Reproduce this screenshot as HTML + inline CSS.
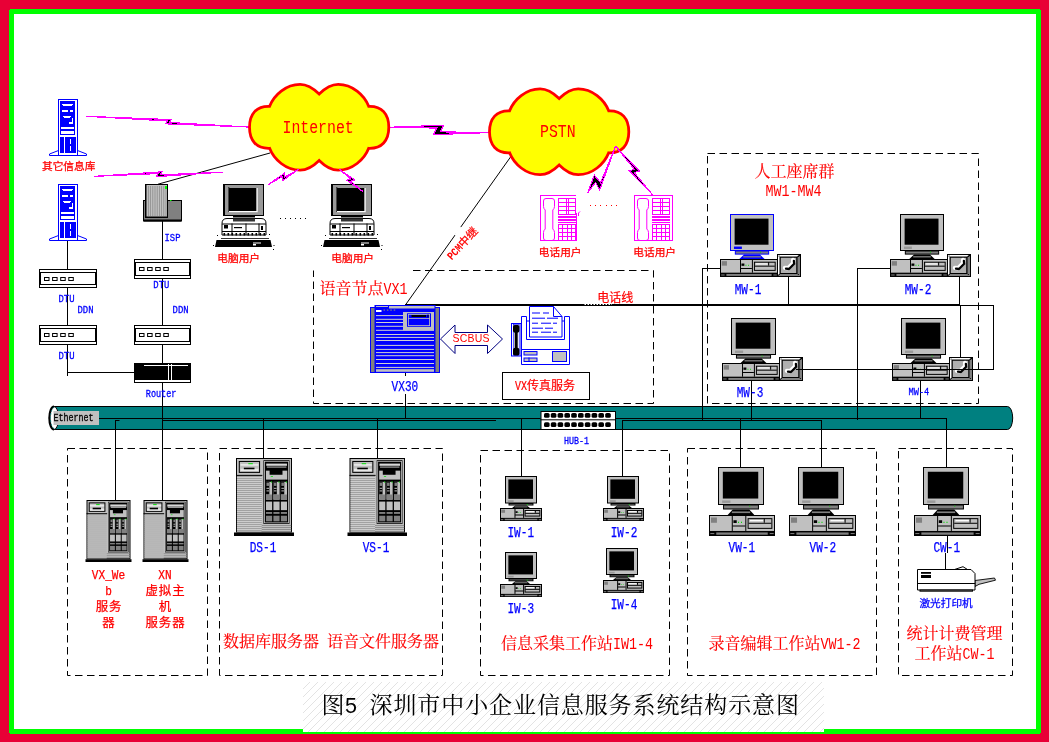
<!DOCTYPE html>
<html lang="zh-CN">
<head>
<meta charset="utf-8">
<title>图5 深圳市中小企业信息服务系统结构示意图</title>
<style>
html,body{margin:0;padding:0;background:#ffffff;}
body{width:1049px;height:742px;overflow:hidden;}
svg{display:block;will-change:transform;}
text{white-space:pre;}
</style>
</head>
<body>
<svg width="1049" height="742" viewBox="0 0 1049 742">
<rect x="0" y="0" width="1049" height="742" fill="#e80036"/>
<rect x="9" y="9" width="1032" height="725" fill="#00ff00"/>
<rect x="14" y="14" width="1022" height="715" fill="#ffffff"/>
<rect x="9" y="9" width="1" height="1" fill="#e80036"/>
<rect x="1040" y="9" width="1" height="1" fill="#e80036"/>
<rect x="9" y="733" width="1" height="1" fill="#e80036"/>
<rect x="1040" y="733" width="1" height="1" fill="#e80036"/>
<rect x="303" y="682" width="521" height="50" fill="#fff"/>
<path d="M303.0 689.0L310.0 682.0M303.0 697.0L318.0 682.0M303.0 705.0L326.0 682.0M303.0 713.0L334.0 682.0M303.0 721.0L342.0 682.0M303.0 729.0L350.0 682.0M308.0 732.0L358.0 682.0M316.0 732.0L366.0 682.0M324.0 732.0L374.0 682.0M332.0 732.0L382.0 682.0M340.0 732.0L390.0 682.0M348.0 732.0L398.0 682.0M356.0 732.0L406.0 682.0M364.0 732.0L414.0 682.0M372.0 732.0L422.0 682.0M380.0 732.0L430.0 682.0M388.0 732.0L438.0 682.0M396.0 732.0L446.0 682.0M404.0 732.0L454.0 682.0M412.0 732.0L462.0 682.0M420.0 732.0L470.0 682.0M428.0 732.0L478.0 682.0M436.0 732.0L486.0 682.0M444.0 732.0L494.0 682.0M452.0 732.0L502.0 682.0M460.0 732.0L510.0 682.0M468.0 732.0L518.0 682.0M476.0 732.0L526.0 682.0M484.0 732.0L534.0 682.0M492.0 732.0L542.0 682.0M500.0 732.0L550.0 682.0M508.0 732.0L558.0 682.0M516.0 732.0L566.0 682.0M524.0 732.0L574.0 682.0M532.0 732.0L582.0 682.0M540.0 732.0L590.0 682.0M548.0 732.0L598.0 682.0M556.0 732.0L606.0 682.0M564.0 732.0L614.0 682.0M572.0 732.0L622.0 682.0M580.0 732.0L630.0 682.0M588.0 732.0L638.0 682.0M596.0 732.0L646.0 682.0M604.0 732.0L654.0 682.0M612.0 732.0L662.0 682.0M620.0 732.0L670.0 682.0M628.0 732.0L678.0 682.0M636.0 732.0L686.0 682.0M644.0 732.0L694.0 682.0M652.0 732.0L702.0 682.0M660.0 732.0L710.0 682.0M668.0 732.0L718.0 682.0M676.0 732.0L726.0 682.0M684.0 732.0L734.0 682.0M692.0 732.0L742.0 682.0M700.0 732.0L750.0 682.0M708.0 732.0L758.0 682.0M716.0 732.0L766.0 682.0M724.0 732.0L774.0 682.0M732.0 732.0L782.0 682.0M740.0 732.0L790.0 682.0M748.0 732.0L798.0 682.0M756.0 732.0L806.0 682.0M764.0 732.0L814.0 682.0M772.0 732.0L822.0 682.0M780.0 732.0L824.0 688.0M788.0 732.0L824.0 696.0M796.0 732.0L824.0 704.0M804.0 732.0L824.0 712.0M812.0 732.0L824.0 720.0M820.0 732.0L824.0 728.0" stroke="#dcdcdc" stroke-width="0.8" fill="none"/>
<rect x="67.5" y="448.5" width="140.0" height="227.0" fill="none" stroke="#000" stroke-width="1" stroke-dasharray="7.5 4.5"/>
<rect x="219.5" y="448.5" width="223.0" height="227.0" fill="none" stroke="#000" stroke-width="1" stroke-dasharray="7.5 4.5"/>
<rect x="480.5" y="450.5" width="189.0" height="225.0" fill="none" stroke="#000" stroke-width="1" stroke-dasharray="7.5 4.5"/>
<rect x="687.5" y="448.5" width="189.0" height="227.0" fill="none" stroke="#000" stroke-width="1" stroke-dasharray="7.5 4.5"/>
<rect x="898.5" y="448.5" width="114.0" height="227.0" fill="none" stroke="#000" stroke-width="1" stroke-dasharray="7.5 4.5"/>
<rect x="707.5" y="153.5" width="271.0" height="250.0" fill="none" stroke="#000" stroke-width="1" stroke-dasharray="7.5 4.5"/>
<path d="M413.0 270.5 H653.5 V403.5 H313.5 V270.5" fill="none" stroke="#000" stroke-width="1" stroke-dasharray="7.5 4.5"/>
<path d="M54 406.5 H1007.5 A5.2 11.5 0 0 1 1007.5 429.5 H54 Z" fill="#008080" stroke="#000" stroke-width="1"/>
<ellipse cx="54" cy="418" rx="4.6" ry="11.5" fill="#fff" stroke="#000" stroke-width="1"/>
<path d="M54 406.5 A4.6 11.5 0 0 0 54 429.5" fill="none" stroke="#000" stroke-width="2.2"/>
<path d="M54.3 407.5 A3.8 10.5 0 0 0 54.3 428.5" fill="none" stroke="#008080" stroke-width="0.8" stroke-dasharray="2 1.5"/>
<rect x="53.50" y="411.00" width="45.50" height="14.00" fill="#c0c0c0" />
<text y="421.00" fill="#000" font-weight="normal" stroke="#000" stroke-width="0.3"><tspan x="53.50" font-family='"Liberation Mono",monospace' font-size="10.00" textLength="40.00" lengthAdjust="spacingAndGlyphs">Ethernet</tspan></text>
<rect x="99.00" y="418.00" width="441.50" height="1.00" fill="#000"/>
<rect x="162.00" y="420.00" width="334.00" height="1.00" fill="#000"/>
<rect x="115.00" y="420.00" width="4.50" height="1.00" fill="#000"/>
<rect x="615.50" y="418.00" width="331.00" height="1.00" fill="#000"/>
<rect x="622.00" y="420.00" width="200.00" height="1.00" fill="#000"/>
<rect x="67.00" y="240.00" width="1.00" height="136.00" fill="#000"/>
<rect x="67.00" y="372.00" width="67.50" height="1.00" fill="#000"/>
<rect x="162.00" y="221.00" width="1.00" height="279.00" fill="#000"/>
<rect x="115.00" y="420.00" width="1.00" height="80.00" fill="#000"/>
<rect x="263.00" y="418.00" width="1.00" height="40.00" fill="#000"/>
<rect x="377.00" y="418.00" width="1.00" height="40.00" fill="#000"/>
<rect x="405.00" y="373.00" width="1.00" height="45.00" fill="#000"/>
<rect x="521.00" y="418.00" width="1.00" height="58.50" fill="#000"/>
<rect x="622.00" y="420.00" width="1.00" height="56.50" fill="#000"/>
<rect x="740.00" y="418.00" width="1.00" height="49.50" fill="#000"/>
<rect x="821.00" y="420.00" width="1.00" height="47.50" fill="#000"/>
<rect x="946.00" y="418.00" width="1.00" height="49.50" fill="#000"/>
<rect x="920.00" y="381.00" width="1.00" height="37.50" fill="#000"/>
<rect x="751.00" y="380.00" width="1.00" height="40.00" fill="#000"/>
<rect x="702.00" y="268.00" width="1.00" height="152.00" fill="#000"/>
<rect x="702.00" y="268.00" width="19.00" height="1.00" fill="#000"/>
<rect x="857.00" y="268.00" width="1.00" height="152.00" fill="#000"/>
<rect x="857.00" y="268.00" width="34.00" height="1.00" fill="#000"/>
<rect x="788.00" y="276.00" width="1.00" height="29.00" fill="#000"/>
<rect x="959.00" y="276.00" width="1.00" height="29.00" fill="#000"/>
<rect x="405.00" y="304.00" width="555.00" height="2.00" fill="#000"/>
<rect x="960.00" y="305.00" width="34.00" height="1.00" fill="#000"/>
<rect x="993.00" y="305.00" width="1.00" height="65.00" fill="#000"/>
<rect x="960.00" y="305.00" width="1.00" height="52.00" fill="#000"/>
<line x1="513.80" y1="152.40" x2="405.40" y2="305.00" stroke="#000" stroke-width="1" />
<line x1="460.60" y1="227.00" x2="455.40" y2="235.30" stroke="#fff" stroke-width="2.5" />
<line x1="158.00" y1="184.20" x2="270.00" y2="153.00" stroke="#000" stroke-width="1" />
<rect x="947.00" y="535.00" width="1.00" height="18.00" fill="#000"/>
<rect x="945.00" y="553.00" width="1.00" height="16.50" fill="#000"/>
<polygon points="86.00,116.30 171.37,119.62 169.28,122.49 250.00,127.10 165.28,123.83 167.38,120.96" fill="#000" stroke="#ff00ff" stroke-width="1.15" stroke-linejoin="miter" shape-rendering="crispEdges"/>
<polygon points="93.70,176.40 161.97,171.83 160.17,174.89 223.30,172.10 156.33,176.62 158.13,173.56" fill="#000" stroke="#ff00ff" stroke-width="1.15" stroke-linejoin="miter" shape-rendering="crispEdges"/>
<polygon points="388.00,127.30 443.76,125.22 440.20,131.84 489.00,132.60 433.24,134.68 436.80,128.06" fill="#000" stroke="#ff00ff" stroke-width="1.15" stroke-linejoin="miter" shape-rendering="crispEdges"/>
<path transform="translate(0.00 0.00)" d="M249.50 127.30 C249.50 114.00 256.50 105.80 269.60 106.30 C274.00 95.00 286.00 84.40 300.10 84.40 C308.00 84.40 314.50 89.50 319.15 94.10 C323.80 89.50 330.30 84.40 338.20 84.40 C352.30 84.40 364.30 95.00 368.70 106.30 C381.80 105.80 388.80 114.00 388.80 127.30 C388.80 140.60 381.80 148.80 368.70 148.30 C364.30 159.60 352.30 170.20 338.20 170.20 C330.30 170.20 323.80 165.10 319.15 160.50 C314.50 165.10 308.00 170.20 300.10 170.20 C286.00 170.20 274.00 159.60 269.60 148.30 C256.50 148.80 249.50 140.60 249.50 127.30 Z" fill="#ffff00" stroke="#ff0000" stroke-width="2.8" stroke-linejoin="miter"/>
<path transform="translate(240.00 4.50)" d="M249.50 127.30 C249.50 114.00 256.50 105.80 269.60 106.30 C274.00 95.00 286.00 84.40 300.10 84.40 C308.00 84.40 314.50 89.50 319.15 94.10 C323.80 89.50 330.30 84.40 338.20 84.40 C352.30 84.40 364.30 95.00 368.70 106.30 C381.80 105.80 388.80 114.00 388.80 127.30 C388.80 140.60 381.80 148.80 368.70 148.30 C364.30 159.60 352.30 170.20 338.20 170.20 C330.30 170.20 323.80 165.10 319.15 160.50 C314.50 165.10 308.00 170.20 300.10 170.20 C286.00 170.20 274.00 159.60 269.60 148.30 C256.50 148.80 249.50 140.60 249.50 127.30 Z" fill="#ffff00" stroke="#ff0000" stroke-width="2.8" stroke-linejoin="miter"/>
<polygon points="615.60,146.30 599.70,189.90 595.60,182.40 587.70,192.70 594.30,175.10 600.50,182.80" fill="#000" stroke="#ff00ff" stroke-width="1.15" stroke-linejoin="miter" shape-rendering="crispEdges"/>
<polygon points="615.60,146.30 639.59,171.10 634.30,172.49 652.40,194.60 629.15,170.76 634.44,169.37" fill="#000" stroke="#ff00ff" stroke-width="1.15" stroke-linejoin="miter" shape-rendering="crispEdges"/>
<polygon points="58.50,150.50 49.50,154.00 49.50,155.50 58.50,155.50" fill="#fff" stroke="#0000ff" stroke-width="1" />
<polygon points="77.50,150.50 86.50,154.00 86.50,155.50 77.50,155.50" fill="#fff" stroke="#0000ff" stroke-width="1" />
<rect x="58.50" y="99.50" width="19.00" height="56.00" fill="#fff" stroke="#0000ff" stroke-width="1" />
<rect x="60.00" y="101.00" width="15.00" height="34.00" fill="#0000ff" />
<rect x="62.00" y="104.00" width="11.00" height="1.00" fill="#fff"/>
<rect x="63.00" y="105.00" width="9.00" height="1.00" fill="#fff"/>
<rect x="62.00" y="110.00" width="6.00" height="2.00" fill="#fff"/>
<rect x="70.00" y="110.00" width="3.00" height="2.00" fill="#fff"/>
<rect x="63.00" y="116.00" width="8.00" height="1.00" fill="#fff"/>
<rect x="64.00" y="117.00" width="6.00" height="1.00" fill="#fff"/>
<rect x="69.00" y="122.00" width="4.00" height="2.00" fill="#fff"/>
<rect x="72.00" y="118.00" width="1.00" height="5.00" fill="#fff"/>
<rect x="61.00" y="127.00" width="13.00" height="2.00" fill="#fff"/>
<rect x="61.00" y="131.00" width="13.00" height="3.00" fill="#fff"/>
<rect x="60.00" y="137.00" width="16.00" height="16.00" fill="#0000ff" />
<rect x="64.00" y="137.00" width="1.00" height="16.00" fill="#fff"/>
<rect x="70.00" y="139.00" width="1.00" height="5.00" fill="#fff"/>
<rect x="70.00" y="146.00" width="1.00" height="5.00" fill="#fff"/>
<polygon points="58.50,235.50 49.50,239.00 49.50,240.50 58.50,240.50" fill="#fff" stroke="#0000ff" stroke-width="1" />
<polygon points="77.50,235.50 86.50,239.00 86.50,240.50 77.50,240.50" fill="#fff" stroke="#0000ff" stroke-width="1" />
<rect x="58.50" y="184.50" width="19.00" height="56.00" fill="#fff" stroke="#0000ff" stroke-width="1" />
<rect x="60.00" y="186.00" width="15.00" height="34.00" fill="#0000ff" />
<rect x="62.00" y="189.00" width="11.00" height="1.00" fill="#fff"/>
<rect x="63.00" y="190.00" width="9.00" height="1.00" fill="#fff"/>
<rect x="62.00" y="195.00" width="6.00" height="2.00" fill="#fff"/>
<rect x="70.00" y="195.00" width="3.00" height="2.00" fill="#fff"/>
<rect x="63.00" y="201.00" width="8.00" height="1.00" fill="#fff"/>
<rect x="64.00" y="202.00" width="6.00" height="1.00" fill="#fff"/>
<rect x="69.00" y="207.00" width="4.00" height="2.00" fill="#fff"/>
<rect x="72.00" y="203.00" width="1.00" height="5.00" fill="#fff"/>
<rect x="61.00" y="212.00" width="13.00" height="2.00" fill="#fff"/>
<rect x="61.00" y="216.00" width="13.00" height="3.00" fill="#fff"/>
<rect x="60.00" y="222.00" width="16.00" height="16.00" fill="#0000ff" />
<rect x="64.00" y="222.00" width="1.00" height="16.00" fill="#fff"/>
<rect x="70.00" y="224.00" width="1.00" height="5.00" fill="#fff"/>
<rect x="70.00" y="231.00" width="1.00" height="5.00" fill="#fff"/>
<rect x="143.50" y="200.50" width="38.00" height="20.50" fill="#808080" stroke="#000" stroke-width="1" />
<rect x="144.00" y="219.50" width="37.00" height="2.00" fill="#000"/>
<rect x="145.50" y="184.50" width="22.00" height="33.00" fill="#c0c0c0" stroke="#000" stroke-width="1" />
<rect x="145.00" y="184.00" width="1.50" height="34.00" fill="#000"/>
<rect x="145.00" y="216.50" width="23.00" height="1.50" fill="#000"/>
<rect x="148.00" y="186.00" width="0.80" height="30.00" fill="#8c8c8c"/>
<rect x="150.20" y="186.00" width="0.80" height="30.00" fill="#8c8c8c"/>
<rect x="152.40" y="186.00" width="0.80" height="30.00" fill="#8c8c8c"/>
<rect x="154.60" y="186.00" width="0.80" height="30.00" fill="#8c8c8c"/>
<rect x="156.80" y="186.00" width="0.80" height="30.00" fill="#8c8c8c"/>
<rect x="159.00" y="186.00" width="0.80" height="30.00" fill="#8c8c8c"/>
<rect x="161.20" y="186.00" width="0.80" height="30.00" fill="#8c8c8c"/>
<rect x="163.40" y="186.00" width="0.80" height="30.00" fill="#8c8c8c"/>
<rect x="165.60" y="186.00" width="0.80" height="30.00" fill="#8c8c8c"/>
<rect x="165.00" y="186.00" width="2.00" height="3.00" fill="#00ff00" />
<rect x="170.00" y="200.00" width="1.50" height="1.00" fill="#00ff00" />
<rect x="39.50" y="269.50" width="57.00" height="18.00" fill="#fff" stroke="#000" stroke-width="1" />
<rect x="39.00" y="272.00" width="58.00" height="1.00" fill="#000"/>
<rect x="39.00" y="284.00" width="58.00" height="1.00" fill="#000"/>
<rect x="40.00" y="272.00" width="1.00" height="13.00" fill="#000"/>
<rect x="95.00" y="272.00" width="1.00" height="13.00" fill="#000"/>
<rect x="44.50" y="277.50" width="4.50" height="3.00" fill="#fff" stroke="#000" stroke-width="1" />
<rect x="52.60" y="277.50" width="4.50" height="3.00" fill="#fff" stroke="#000" stroke-width="1" />
<rect x="60.70" y="277.50" width="4.50" height="3.00" fill="#fff" stroke="#000" stroke-width="1" />
<rect x="68.80" y="277.50" width="4.50" height="3.00" fill="#fff" stroke="#000" stroke-width="1" />
<rect x="134.50" y="259.50" width="56.00" height="19.00" fill="#fff" stroke="#000" stroke-width="1" />
<rect x="134.00" y="262.00" width="57.00" height="1.00" fill="#000"/>
<rect x="134.00" y="275.00" width="57.00" height="1.00" fill="#000"/>
<rect x="135.00" y="262.00" width="1.00" height="14.00" fill="#000"/>
<rect x="189.00" y="262.00" width="1.00" height="14.00" fill="#000"/>
<rect x="139.50" y="267.50" width="4.50" height="3.00" fill="#fff" stroke="#000" stroke-width="1" />
<rect x="147.60" y="267.50" width="4.50" height="3.00" fill="#fff" stroke="#000" stroke-width="1" />
<rect x="155.70" y="267.50" width="4.50" height="3.00" fill="#fff" stroke="#000" stroke-width="1" />
<rect x="163.80" y="267.50" width="4.50" height="3.00" fill="#fff" stroke="#000" stroke-width="1" />
<rect x="39.50" y="325.50" width="57.00" height="19.00" fill="#fff" stroke="#000" stroke-width="1" />
<rect x="39.00" y="328.00" width="58.00" height="1.00" fill="#000"/>
<rect x="39.00" y="341.00" width="58.00" height="1.00" fill="#000"/>
<rect x="40.00" y="328.00" width="1.00" height="14.00" fill="#000"/>
<rect x="95.00" y="328.00" width="1.00" height="14.00" fill="#000"/>
<rect x="44.50" y="333.50" width="4.50" height="3.00" fill="#fff" stroke="#000" stroke-width="1" />
<rect x="52.60" y="333.50" width="4.50" height="3.00" fill="#fff" stroke="#000" stroke-width="1" />
<rect x="60.70" y="333.50" width="4.50" height="3.00" fill="#fff" stroke="#000" stroke-width="1" />
<rect x="68.80" y="333.50" width="4.50" height="3.00" fill="#fff" stroke="#000" stroke-width="1" />
<rect x="134.50" y="325.50" width="56.00" height="19.00" fill="#fff" stroke="#000" stroke-width="1" />
<rect x="134.00" y="328.00" width="57.00" height="1.00" fill="#000"/>
<rect x="134.00" y="341.00" width="57.00" height="1.00" fill="#000"/>
<rect x="135.00" y="328.00" width="1.00" height="14.00" fill="#000"/>
<rect x="189.00" y="328.00" width="1.00" height="14.00" fill="#000"/>
<rect x="139.50" y="333.50" width="4.50" height="3.00" fill="#fff" stroke="#000" stroke-width="1" />
<rect x="147.60" y="333.50" width="4.50" height="3.00" fill="#fff" stroke="#000" stroke-width="1" />
<rect x="155.70" y="333.50" width="4.50" height="3.00" fill="#fff" stroke="#000" stroke-width="1" />
<rect x="163.80" y="333.50" width="4.50" height="3.00" fill="#fff" stroke="#000" stroke-width="1" />
<rect x="134.00" y="363.00" width="57.00" height="20.00" fill="#000" />
<rect x="144.00" y="365.00" width="44.00" height="1.00" fill="#fff"/>
<rect x="168.00" y="364.00" width="1.00" height="18.00" fill="#fff"/>
<rect x="171.00" y="364.00" width="1.00" height="18.00" fill="#fff"/>
<rect x="135.00" y="380.00" width="55.00" height="2.00" fill="#fff"/>
<rect x="87.00" y="500.50" width="43.00" height="58.21" fill="#c0c0c0" stroke="#000" stroke-width="1" />
<rect x="85.50" y="559.21" width="46.00" height="2.79" fill="#000" />
<rect x="86.50" y="513.21" width="20.68" height="1.00" fill="#000"/>
<rect x="87.16" y="514.71" width="19.58" height="0.80" fill="#909090"/>
<rect x="87.16" y="515.71" width="19.58" height="0.60" fill="#dcdcdc"/>
<rect x="87.16" y="516.71" width="19.58" height="0.80" fill="#909090"/>
<rect x="87.16" y="517.71" width="19.58" height="0.60" fill="#dcdcdc"/>
<rect x="87.16" y="518.71" width="19.58" height="0.80" fill="#909090"/>
<rect x="87.16" y="519.71" width="19.58" height="0.60" fill="#dcdcdc"/>
<rect x="87.16" y="520.71" width="19.58" height="0.80" fill="#909090"/>
<rect x="87.16" y="521.71" width="19.58" height="0.60" fill="#dcdcdc"/>
<rect x="87.16" y="522.71" width="19.58" height="0.80" fill="#909090"/>
<rect x="87.16" y="523.71" width="19.58" height="0.60" fill="#dcdcdc"/>
<rect x="87.16" y="524.71" width="19.58" height="0.80" fill="#909090"/>
<rect x="87.16" y="525.71" width="19.58" height="0.60" fill="#dcdcdc"/>
<rect x="87.16" y="526.71" width="19.58" height="0.80" fill="#909090"/>
<rect x="87.16" y="527.71" width="19.58" height="0.60" fill="#dcdcdc"/>
<rect x="87.16" y="528.71" width="19.58" height="0.80" fill="#909090"/>
<rect x="87.16" y="529.71" width="19.58" height="0.60" fill="#dcdcdc"/>
<rect x="87.16" y="530.71" width="19.58" height="0.80" fill="#909090"/>
<rect x="87.16" y="531.71" width="19.58" height="0.60" fill="#dcdcdc"/>
<rect x="87.16" y="532.71" width="19.58" height="0.80" fill="#909090"/>
<rect x="87.16" y="533.71" width="19.58" height="0.60" fill="#dcdcdc"/>
<rect x="87.16" y="534.71" width="19.58" height="0.80" fill="#909090"/>
<rect x="87.16" y="535.71" width="19.58" height="0.60" fill="#dcdcdc"/>
<rect x="87.16" y="536.71" width="19.58" height="0.80" fill="#909090"/>
<rect x="87.16" y="537.71" width="19.58" height="0.60" fill="#dcdcdc"/>
<rect x="87.16" y="538.71" width="19.58" height="0.80" fill="#909090"/>
<rect x="87.16" y="539.71" width="19.58" height="0.60" fill="#dcdcdc"/>
<rect x="87.16" y="540.71" width="19.58" height="0.80" fill="#909090"/>
<rect x="87.16" y="541.71" width="19.58" height="0.60" fill="#dcdcdc"/>
<rect x="87.16" y="542.71" width="19.58" height="0.80" fill="#909090"/>
<rect x="87.16" y="543.71" width="19.58" height="0.60" fill="#dcdcdc"/>
<rect x="87.16" y="544.71" width="19.58" height="0.80" fill="#909090"/>
<rect x="87.16" y="545.71" width="19.58" height="0.60" fill="#dcdcdc"/>
<rect x="87.16" y="546.71" width="19.58" height="0.80" fill="#909090"/>
<rect x="87.16" y="547.71" width="19.58" height="0.60" fill="#dcdcdc"/>
<rect x="87.16" y="548.71" width="19.58" height="0.80" fill="#909090"/>
<rect x="87.16" y="549.71" width="19.58" height="0.60" fill="#dcdcdc"/>
<rect x="87.16" y="550.71" width="19.58" height="0.80" fill="#909090"/>
<rect x="87.16" y="551.71" width="19.58" height="0.60" fill="#dcdcdc"/>
<rect x="87.16" y="552.71" width="19.58" height="0.80" fill="#909090"/>
<rect x="87.16" y="553.71" width="19.58" height="0.60" fill="#dcdcdc"/>
<rect x="87.16" y="554.71" width="19.58" height="0.80" fill="#909090"/>
<rect x="87.16" y="555.71" width="19.58" height="0.60" fill="#dcdcdc"/>
<rect x="87.16" y="556.71" width="19.58" height="0.80" fill="#909090"/>
<rect x="87.16" y="557.71" width="19.58" height="0.60" fill="#dcdcdc"/>
<rect x="106.74" y="553.29" width="23.10" height="0.90" fill="#8a8a8a"/>
<rect x="106.74" y="555.29" width="23.10" height="0.90" fill="#8a8a8a"/>
<rect x="106.74" y="557.29" width="23.10" height="0.90" fill="#8a8a8a"/>
<rect x="89.20" y="502.87" width="15.72" height="8.47" fill="#c0c0c0" stroke="#000" stroke-width="1" />
<rect x="90.02" y="504.74" width="14.08" height="1.80" fill="#e8e8e8"/>
<rect x="90.02" y="508.59" width="14.08" height="2.20" fill="#e8e8e8"/>
<rect x="92.66" y="507.70" width="8.36" height="1.60" fill="#000"/>
<rect x="96.18" y="504.14" width="3.52" height="1.00" fill="#00e000"/>
<rect x="108.06" y="501.78" width="20.46" height="50.62" fill="#000" />
<rect x="108.50" y="502.37" width="19.58" height="49.44" fill="#c0c0c0" />
<rect x="109.16" y="502.96" width="18.26" height="48.26" fill="#000" />
<rect x="110.26" y="504.44" width="16.28" height="2.20" fill="#d8d8d8"/>
<rect x="110.70" y="506.81" width="15.40" height="1.00" fill="#c0c0c0"/>
<rect x="110.04" y="510.07" width="16.72" height="7.11" fill="#c0c0c0" />
<rect x="112.90" y="507.99" width="10.12" height="5.33" fill="#000" />
<rect x="113.78" y="514.51" width="1.76" height="0.59" fill="#00e000" />
<rect x="110.04" y="518.95" width="4.84" height="14.21" fill="#c0c0c0" />
<rect x="110.04" y="518.95" width="2.66" height="10.07" fill="#000" />
<rect x="110.54" y="519.54" width="1.92" height="2.66" fill="#808080" />
<rect x="110.54" y="523.68" width="1.92" height="1.00" fill="#c0c0c0"/>
<rect x="110.54" y="525.76" width="1.92" height="1.00" fill="#c0c0c0"/>
<rect x="110.04" y="529.01" width="4.84" height="4.14" fill="#808080" />
<rect x="110.04" y="534.64" width="4.84" height="6.81" fill="#c0c0c0" />
<rect x="110.04" y="542.93" width="4.84" height="1.48" fill="#808080" />
<rect x="110.04" y="545.89" width="4.84" height="4.44" fill="#808080" />
<rect x="113.68" y="518.65" width="1.20" height="0.89" fill="#00e000" />
<rect x="115.89" y="518.95" width="4.84" height="14.21" fill="#c0c0c0" />
<rect x="115.89" y="518.95" width="2.66" height="10.07" fill="#000" />
<rect x="116.39" y="519.54" width="1.92" height="2.66" fill="#808080" />
<rect x="116.39" y="523.68" width="1.92" height="1.00" fill="#c0c0c0"/>
<rect x="116.39" y="525.76" width="1.92" height="1.00" fill="#c0c0c0"/>
<rect x="115.89" y="529.01" width="4.84" height="4.14" fill="#808080" />
<rect x="115.89" y="534.64" width="4.84" height="6.81" fill="#c0c0c0" />
<rect x="115.89" y="542.93" width="4.84" height="1.48" fill="#808080" />
<rect x="115.89" y="545.89" width="4.84" height="4.44" fill="#808080" />
<rect x="119.53" y="518.65" width="1.20" height="0.89" fill="#00e000" />
<rect x="121.74" y="518.95" width="4.84" height="14.21" fill="#c0c0c0" />
<rect x="121.74" y="518.95" width="2.66" height="10.07" fill="#000" />
<rect x="122.24" y="519.54" width="1.92" height="2.66" fill="#808080" />
<rect x="122.24" y="523.68" width="1.92" height="1.00" fill="#c0c0c0"/>
<rect x="122.24" y="525.76" width="1.92" height="1.00" fill="#c0c0c0"/>
<rect x="121.74" y="529.01" width="4.84" height="4.14" fill="#808080" />
<rect x="121.74" y="534.64" width="4.84" height="6.81" fill="#c0c0c0" />
<rect x="121.74" y="542.93" width="4.84" height="1.48" fill="#808080" />
<rect x="121.74" y="545.89" width="4.84" height="4.44" fill="#808080" />
<rect x="125.38" y="518.65" width="1.20" height="0.89" fill="#00e000" />
<rect x="144.00" y="500.50" width="43.00" height="58.21" fill="#c0c0c0" stroke="#000" stroke-width="1" />
<rect x="142.50" y="559.21" width="46.00" height="2.79" fill="#000" />
<rect x="143.50" y="513.21" width="20.68" height="1.00" fill="#000"/>
<rect x="144.16" y="514.71" width="19.58" height="0.80" fill="#909090"/>
<rect x="144.16" y="515.71" width="19.58" height="0.60" fill="#dcdcdc"/>
<rect x="144.16" y="516.71" width="19.58" height="0.80" fill="#909090"/>
<rect x="144.16" y="517.71" width="19.58" height="0.60" fill="#dcdcdc"/>
<rect x="144.16" y="518.71" width="19.58" height="0.80" fill="#909090"/>
<rect x="144.16" y="519.71" width="19.58" height="0.60" fill="#dcdcdc"/>
<rect x="144.16" y="520.71" width="19.58" height="0.80" fill="#909090"/>
<rect x="144.16" y="521.71" width="19.58" height="0.60" fill="#dcdcdc"/>
<rect x="144.16" y="522.71" width="19.58" height="0.80" fill="#909090"/>
<rect x="144.16" y="523.71" width="19.58" height="0.60" fill="#dcdcdc"/>
<rect x="144.16" y="524.71" width="19.58" height="0.80" fill="#909090"/>
<rect x="144.16" y="525.71" width="19.58" height="0.60" fill="#dcdcdc"/>
<rect x="144.16" y="526.71" width="19.58" height="0.80" fill="#909090"/>
<rect x="144.16" y="527.71" width="19.58" height="0.60" fill="#dcdcdc"/>
<rect x="144.16" y="528.71" width="19.58" height="0.80" fill="#909090"/>
<rect x="144.16" y="529.71" width="19.58" height="0.60" fill="#dcdcdc"/>
<rect x="144.16" y="530.71" width="19.58" height="0.80" fill="#909090"/>
<rect x="144.16" y="531.71" width="19.58" height="0.60" fill="#dcdcdc"/>
<rect x="144.16" y="532.71" width="19.58" height="0.80" fill="#909090"/>
<rect x="144.16" y="533.71" width="19.58" height="0.60" fill="#dcdcdc"/>
<rect x="144.16" y="534.71" width="19.58" height="0.80" fill="#909090"/>
<rect x="144.16" y="535.71" width="19.58" height="0.60" fill="#dcdcdc"/>
<rect x="144.16" y="536.71" width="19.58" height="0.80" fill="#909090"/>
<rect x="144.16" y="537.71" width="19.58" height="0.60" fill="#dcdcdc"/>
<rect x="144.16" y="538.71" width="19.58" height="0.80" fill="#909090"/>
<rect x="144.16" y="539.71" width="19.58" height="0.60" fill="#dcdcdc"/>
<rect x="144.16" y="540.71" width="19.58" height="0.80" fill="#909090"/>
<rect x="144.16" y="541.71" width="19.58" height="0.60" fill="#dcdcdc"/>
<rect x="144.16" y="542.71" width="19.58" height="0.80" fill="#909090"/>
<rect x="144.16" y="543.71" width="19.58" height="0.60" fill="#dcdcdc"/>
<rect x="144.16" y="544.71" width="19.58" height="0.80" fill="#909090"/>
<rect x="144.16" y="545.71" width="19.58" height="0.60" fill="#dcdcdc"/>
<rect x="144.16" y="546.71" width="19.58" height="0.80" fill="#909090"/>
<rect x="144.16" y="547.71" width="19.58" height="0.60" fill="#dcdcdc"/>
<rect x="144.16" y="548.71" width="19.58" height="0.80" fill="#909090"/>
<rect x="144.16" y="549.71" width="19.58" height="0.60" fill="#dcdcdc"/>
<rect x="144.16" y="550.71" width="19.58" height="0.80" fill="#909090"/>
<rect x="144.16" y="551.71" width="19.58" height="0.60" fill="#dcdcdc"/>
<rect x="144.16" y="552.71" width="19.58" height="0.80" fill="#909090"/>
<rect x="144.16" y="553.71" width="19.58" height="0.60" fill="#dcdcdc"/>
<rect x="144.16" y="554.71" width="19.58" height="0.80" fill="#909090"/>
<rect x="144.16" y="555.71" width="19.58" height="0.60" fill="#dcdcdc"/>
<rect x="144.16" y="556.71" width="19.58" height="0.80" fill="#909090"/>
<rect x="144.16" y="557.71" width="19.58" height="0.60" fill="#dcdcdc"/>
<rect x="163.74" y="553.29" width="23.10" height="0.90" fill="#8a8a8a"/>
<rect x="163.74" y="555.29" width="23.10" height="0.90" fill="#8a8a8a"/>
<rect x="163.74" y="557.29" width="23.10" height="0.90" fill="#8a8a8a"/>
<rect x="146.20" y="502.87" width="15.72" height="8.47" fill="#c0c0c0" stroke="#000" stroke-width="1" />
<rect x="147.02" y="504.74" width="14.08" height="1.80" fill="#e8e8e8"/>
<rect x="147.02" y="508.59" width="14.08" height="2.20" fill="#e8e8e8"/>
<rect x="149.66" y="507.70" width="8.36" height="1.60" fill="#000"/>
<rect x="153.18" y="504.14" width="3.52" height="1.00" fill="#00e000"/>
<rect x="165.06" y="501.78" width="20.46" height="50.62" fill="#000" />
<rect x="165.50" y="502.37" width="19.58" height="49.44" fill="#c0c0c0" />
<rect x="166.16" y="502.96" width="18.26" height="48.26" fill="#000" />
<rect x="167.26" y="504.44" width="16.28" height="2.20" fill="#d8d8d8"/>
<rect x="167.70" y="506.81" width="15.40" height="1.00" fill="#c0c0c0"/>
<rect x="167.04" y="510.07" width="16.72" height="7.11" fill="#c0c0c0" />
<rect x="169.90" y="507.99" width="10.12" height="5.33" fill="#000" />
<rect x="170.78" y="514.51" width="1.76" height="0.59" fill="#00e000" />
<rect x="167.04" y="518.95" width="4.84" height="14.21" fill="#c0c0c0" />
<rect x="167.04" y="518.95" width="2.66" height="10.07" fill="#000" />
<rect x="167.54" y="519.54" width="1.92" height="2.66" fill="#808080" />
<rect x="167.54" y="523.68" width="1.92" height="1.00" fill="#c0c0c0"/>
<rect x="167.54" y="525.76" width="1.92" height="1.00" fill="#c0c0c0"/>
<rect x="167.04" y="529.01" width="4.84" height="4.14" fill="#808080" />
<rect x="167.04" y="534.64" width="4.84" height="6.81" fill="#c0c0c0" />
<rect x="167.04" y="542.93" width="4.84" height="1.48" fill="#808080" />
<rect x="167.04" y="545.89" width="4.84" height="4.44" fill="#808080" />
<rect x="170.68" y="518.65" width="1.20" height="0.89" fill="#00e000" />
<rect x="172.89" y="518.95" width="4.84" height="14.21" fill="#c0c0c0" />
<rect x="172.89" y="518.95" width="2.66" height="10.07" fill="#000" />
<rect x="173.39" y="519.54" width="1.92" height="2.66" fill="#808080" />
<rect x="173.39" y="523.68" width="1.92" height="1.00" fill="#c0c0c0"/>
<rect x="173.39" y="525.76" width="1.92" height="1.00" fill="#c0c0c0"/>
<rect x="172.89" y="529.01" width="4.84" height="4.14" fill="#808080" />
<rect x="172.89" y="534.64" width="4.84" height="6.81" fill="#c0c0c0" />
<rect x="172.89" y="542.93" width="4.84" height="1.48" fill="#808080" />
<rect x="172.89" y="545.89" width="4.84" height="4.44" fill="#808080" />
<rect x="176.53" y="518.65" width="1.20" height="0.89" fill="#00e000" />
<rect x="178.74" y="518.95" width="4.84" height="14.21" fill="#c0c0c0" />
<rect x="178.74" y="518.95" width="2.66" height="10.07" fill="#000" />
<rect x="179.24" y="519.54" width="1.92" height="2.66" fill="#808080" />
<rect x="179.24" y="523.68" width="1.92" height="1.00" fill="#c0c0c0"/>
<rect x="179.24" y="525.76" width="1.92" height="1.00" fill="#c0c0c0"/>
<rect x="178.74" y="529.01" width="4.84" height="4.14" fill="#808080" />
<rect x="178.74" y="534.64" width="4.84" height="6.81" fill="#c0c0c0" />
<rect x="178.74" y="542.93" width="4.84" height="1.48" fill="#808080" />
<rect x="178.74" y="545.89" width="4.84" height="4.44" fill="#808080" />
<rect x="182.38" y="518.65" width="1.20" height="0.89" fill="#00e000" />
<rect x="236.50" y="458.50" width="55.00" height="73.49" fill="#c0c0c0" stroke="#000" stroke-width="1" />
<rect x="234.00" y="532.49" width="60.00" height="3.51" fill="#000" />
<rect x="236.00" y="474.88" width="26.32" height="1.00" fill="#000"/>
<rect x="236.84" y="476.38" width="24.92" height="0.80" fill="#909090"/>
<rect x="236.84" y="477.38" width="24.92" height="0.60" fill="#dcdcdc"/>
<rect x="236.84" y="478.38" width="24.92" height="0.80" fill="#909090"/>
<rect x="236.84" y="479.38" width="24.92" height="0.60" fill="#dcdcdc"/>
<rect x="236.84" y="480.38" width="24.92" height="0.80" fill="#909090"/>
<rect x="236.84" y="481.38" width="24.92" height="0.60" fill="#dcdcdc"/>
<rect x="236.84" y="482.38" width="24.92" height="0.80" fill="#909090"/>
<rect x="236.84" y="483.38" width="24.92" height="0.60" fill="#dcdcdc"/>
<rect x="236.84" y="484.38" width="24.92" height="0.80" fill="#909090"/>
<rect x="236.84" y="485.38" width="24.92" height="0.60" fill="#dcdcdc"/>
<rect x="236.84" y="486.38" width="24.92" height="0.80" fill="#909090"/>
<rect x="236.84" y="487.38" width="24.92" height="0.60" fill="#dcdcdc"/>
<rect x="236.84" y="488.38" width="24.92" height="0.80" fill="#909090"/>
<rect x="236.84" y="489.38" width="24.92" height="0.60" fill="#dcdcdc"/>
<rect x="236.84" y="490.38" width="24.92" height="0.80" fill="#909090"/>
<rect x="236.84" y="491.38" width="24.92" height="0.60" fill="#dcdcdc"/>
<rect x="236.84" y="492.38" width="24.92" height="0.80" fill="#909090"/>
<rect x="236.84" y="493.38" width="24.92" height="0.60" fill="#dcdcdc"/>
<rect x="236.84" y="494.38" width="24.92" height="0.80" fill="#909090"/>
<rect x="236.84" y="495.38" width="24.92" height="0.60" fill="#dcdcdc"/>
<rect x="236.84" y="496.38" width="24.92" height="0.80" fill="#909090"/>
<rect x="236.84" y="497.38" width="24.92" height="0.60" fill="#dcdcdc"/>
<rect x="236.84" y="498.38" width="24.92" height="0.80" fill="#909090"/>
<rect x="236.84" y="499.38" width="24.92" height="0.60" fill="#dcdcdc"/>
<rect x="236.84" y="500.38" width="24.92" height="0.80" fill="#909090"/>
<rect x="236.84" y="501.38" width="24.92" height="0.60" fill="#dcdcdc"/>
<rect x="236.84" y="502.38" width="24.92" height="0.80" fill="#909090"/>
<rect x="236.84" y="503.38" width="24.92" height="0.60" fill="#dcdcdc"/>
<rect x="236.84" y="504.38" width="24.92" height="0.80" fill="#909090"/>
<rect x="236.84" y="505.38" width="24.92" height="0.60" fill="#dcdcdc"/>
<rect x="236.84" y="506.38" width="24.92" height="0.80" fill="#909090"/>
<rect x="236.84" y="507.38" width="24.92" height="0.60" fill="#dcdcdc"/>
<rect x="236.84" y="508.38" width="24.92" height="0.80" fill="#909090"/>
<rect x="236.84" y="509.38" width="24.92" height="0.60" fill="#dcdcdc"/>
<rect x="236.84" y="510.38" width="24.92" height="0.80" fill="#909090"/>
<rect x="236.84" y="511.38" width="24.92" height="0.60" fill="#dcdcdc"/>
<rect x="236.84" y="512.38" width="24.92" height="0.80" fill="#909090"/>
<rect x="236.84" y="513.38" width="24.92" height="0.60" fill="#dcdcdc"/>
<rect x="236.84" y="514.38" width="24.92" height="0.80" fill="#909090"/>
<rect x="236.84" y="515.38" width="24.92" height="0.60" fill="#dcdcdc"/>
<rect x="236.84" y="516.38" width="24.92" height="0.80" fill="#909090"/>
<rect x="236.84" y="517.38" width="24.92" height="0.60" fill="#dcdcdc"/>
<rect x="236.84" y="518.38" width="24.92" height="0.80" fill="#909090"/>
<rect x="236.84" y="519.38" width="24.92" height="0.60" fill="#dcdcdc"/>
<rect x="236.84" y="520.38" width="24.92" height="0.80" fill="#909090"/>
<rect x="236.84" y="521.38" width="24.92" height="0.60" fill="#dcdcdc"/>
<rect x="236.84" y="522.38" width="24.92" height="0.80" fill="#909090"/>
<rect x="236.84" y="523.38" width="24.92" height="0.60" fill="#dcdcdc"/>
<rect x="236.84" y="524.38" width="24.92" height="0.80" fill="#909090"/>
<rect x="236.84" y="525.38" width="24.92" height="0.60" fill="#dcdcdc"/>
<rect x="236.84" y="526.38" width="24.92" height="0.80" fill="#909090"/>
<rect x="236.84" y="527.38" width="24.92" height="0.60" fill="#dcdcdc"/>
<rect x="236.84" y="528.38" width="24.92" height="0.80" fill="#909090"/>
<rect x="236.84" y="529.38" width="24.92" height="0.60" fill="#dcdcdc"/>
<rect x="236.84" y="530.38" width="24.92" height="0.80" fill="#909090"/>
<rect x="236.84" y="531.38" width="24.92" height="0.60" fill="#dcdcdc"/>
<rect x="261.76" y="525.04" width="29.40" height="0.90" fill="#8a8a8a"/>
<rect x="261.76" y="527.04" width="29.40" height="0.90" fill="#8a8a8a"/>
<rect x="261.76" y="529.04" width="29.40" height="0.90" fill="#8a8a8a"/>
<rect x="261.76" y="531.04" width="29.40" height="0.90" fill="#8a8a8a"/>
<rect x="239.30" y="461.48" width="20.28" height="10.92" fill="#c0c0c0" stroke="#000" stroke-width="1" />
<rect x="240.48" y="463.96" width="17.92" height="1.80" fill="#e8e8e8"/>
<rect x="240.48" y="468.80" width="17.92" height="2.20" fill="#e8e8e8"/>
<rect x="243.84" y="467.68" width="10.64" height="1.60" fill="#000"/>
<rect x="248.32" y="463.21" width="4.48" height="1.00" fill="#00e000"/>
<rect x="263.44" y="460.23" width="26.04" height="63.69" fill="#000" />
<rect x="264.00" y="460.98" width="24.92" height="62.20" fill="#c0c0c0" />
<rect x="264.84" y="461.72" width="23.24" height="60.71" fill="#000" />
<rect x="266.24" y="463.59" width="20.72" height="2.20" fill="#d8d8d8"/>
<rect x="266.80" y="466.57" width="19.60" height="1.00" fill="#c0c0c0"/>
<rect x="265.96" y="470.66" width="21.28" height="8.94" fill="#c0c0c0" />
<rect x="269.60" y="468.06" width="12.88" height="6.70" fill="#000" />
<rect x="270.72" y="476.25" width="2.24" height="0.74" fill="#00e000" />
<rect x="265.96" y="481.84" width="6.16" height="17.88" fill="#c0c0c0" />
<rect x="265.96" y="481.84" width="3.39" height="12.66" fill="#000" />
<rect x="266.46" y="482.58" width="2.58" height="3.35" fill="#808080" />
<rect x="266.46" y="487.80" width="2.58" height="1.00" fill="#c0c0c0"/>
<rect x="266.46" y="490.40" width="2.58" height="1.00" fill="#c0c0c0"/>
<rect x="265.96" y="494.50" width="6.16" height="5.21" fill="#808080" />
<rect x="265.96" y="501.58" width="6.16" height="8.57" fill="#c0c0c0" />
<rect x="265.96" y="512.01" width="6.16" height="1.86" fill="#808080" />
<rect x="265.96" y="515.73" width="6.16" height="5.59" fill="#808080" />
<rect x="270.92" y="481.46" width="1.20" height="1.12" fill="#00e000" />
<rect x="273.41" y="481.84" width="6.16" height="17.88" fill="#c0c0c0" />
<rect x="273.41" y="481.84" width="3.39" height="12.66" fill="#000" />
<rect x="273.91" y="482.58" width="2.58" height="3.35" fill="#808080" />
<rect x="273.91" y="487.80" width="2.58" height="1.00" fill="#c0c0c0"/>
<rect x="273.91" y="490.40" width="2.58" height="1.00" fill="#c0c0c0"/>
<rect x="273.41" y="494.50" width="6.16" height="5.21" fill="#808080" />
<rect x="273.41" y="501.58" width="6.16" height="8.57" fill="#c0c0c0" />
<rect x="273.41" y="512.01" width="6.16" height="1.86" fill="#808080" />
<rect x="273.41" y="515.73" width="6.16" height="5.59" fill="#808080" />
<rect x="278.37" y="481.46" width="1.20" height="1.12" fill="#00e000" />
<rect x="280.86" y="481.84" width="6.16" height="17.88" fill="#c0c0c0" />
<rect x="280.86" y="481.84" width="3.39" height="12.66" fill="#000" />
<rect x="281.36" y="482.58" width="2.58" height="3.35" fill="#808080" />
<rect x="281.36" y="487.80" width="2.58" height="1.00" fill="#c0c0c0"/>
<rect x="281.36" y="490.40" width="2.58" height="1.00" fill="#c0c0c0"/>
<rect x="280.86" y="494.50" width="6.16" height="5.21" fill="#808080" />
<rect x="280.86" y="501.58" width="6.16" height="8.57" fill="#c0c0c0" />
<rect x="280.86" y="512.01" width="6.16" height="1.86" fill="#808080" />
<rect x="280.86" y="515.73" width="6.16" height="5.59" fill="#808080" />
<rect x="285.82" y="481.46" width="1.20" height="1.12" fill="#00e000" />
<rect x="350.00" y="458.50" width="54.50" height="73.49" fill="#c0c0c0" stroke="#000" stroke-width="1" />
<rect x="347.50" y="532.49" width="59.50" height="3.51" fill="#000" />
<rect x="349.50" y="474.88" width="26.08" height="1.00" fill="#000"/>
<rect x="350.33" y="476.38" width="24.70" height="0.80" fill="#909090"/>
<rect x="350.33" y="477.38" width="24.70" height="0.60" fill="#dcdcdc"/>
<rect x="350.33" y="478.38" width="24.70" height="0.80" fill="#909090"/>
<rect x="350.33" y="479.38" width="24.70" height="0.60" fill="#dcdcdc"/>
<rect x="350.33" y="480.38" width="24.70" height="0.80" fill="#909090"/>
<rect x="350.33" y="481.38" width="24.70" height="0.60" fill="#dcdcdc"/>
<rect x="350.33" y="482.38" width="24.70" height="0.80" fill="#909090"/>
<rect x="350.33" y="483.38" width="24.70" height="0.60" fill="#dcdcdc"/>
<rect x="350.33" y="484.38" width="24.70" height="0.80" fill="#909090"/>
<rect x="350.33" y="485.38" width="24.70" height="0.60" fill="#dcdcdc"/>
<rect x="350.33" y="486.38" width="24.70" height="0.80" fill="#909090"/>
<rect x="350.33" y="487.38" width="24.70" height="0.60" fill="#dcdcdc"/>
<rect x="350.33" y="488.38" width="24.70" height="0.80" fill="#909090"/>
<rect x="350.33" y="489.38" width="24.70" height="0.60" fill="#dcdcdc"/>
<rect x="350.33" y="490.38" width="24.70" height="0.80" fill="#909090"/>
<rect x="350.33" y="491.38" width="24.70" height="0.60" fill="#dcdcdc"/>
<rect x="350.33" y="492.38" width="24.70" height="0.80" fill="#909090"/>
<rect x="350.33" y="493.38" width="24.70" height="0.60" fill="#dcdcdc"/>
<rect x="350.33" y="494.38" width="24.70" height="0.80" fill="#909090"/>
<rect x="350.33" y="495.38" width="24.70" height="0.60" fill="#dcdcdc"/>
<rect x="350.33" y="496.38" width="24.70" height="0.80" fill="#909090"/>
<rect x="350.33" y="497.38" width="24.70" height="0.60" fill="#dcdcdc"/>
<rect x="350.33" y="498.38" width="24.70" height="0.80" fill="#909090"/>
<rect x="350.33" y="499.38" width="24.70" height="0.60" fill="#dcdcdc"/>
<rect x="350.33" y="500.38" width="24.70" height="0.80" fill="#909090"/>
<rect x="350.33" y="501.38" width="24.70" height="0.60" fill="#dcdcdc"/>
<rect x="350.33" y="502.38" width="24.70" height="0.80" fill="#909090"/>
<rect x="350.33" y="503.38" width="24.70" height="0.60" fill="#dcdcdc"/>
<rect x="350.33" y="504.38" width="24.70" height="0.80" fill="#909090"/>
<rect x="350.33" y="505.38" width="24.70" height="0.60" fill="#dcdcdc"/>
<rect x="350.33" y="506.38" width="24.70" height="0.80" fill="#909090"/>
<rect x="350.33" y="507.38" width="24.70" height="0.60" fill="#dcdcdc"/>
<rect x="350.33" y="508.38" width="24.70" height="0.80" fill="#909090"/>
<rect x="350.33" y="509.38" width="24.70" height="0.60" fill="#dcdcdc"/>
<rect x="350.33" y="510.38" width="24.70" height="0.80" fill="#909090"/>
<rect x="350.33" y="511.38" width="24.70" height="0.60" fill="#dcdcdc"/>
<rect x="350.33" y="512.38" width="24.70" height="0.80" fill="#909090"/>
<rect x="350.33" y="513.38" width="24.70" height="0.60" fill="#dcdcdc"/>
<rect x="350.33" y="514.38" width="24.70" height="0.80" fill="#909090"/>
<rect x="350.33" y="515.38" width="24.70" height="0.60" fill="#dcdcdc"/>
<rect x="350.33" y="516.38" width="24.70" height="0.80" fill="#909090"/>
<rect x="350.33" y="517.38" width="24.70" height="0.60" fill="#dcdcdc"/>
<rect x="350.33" y="518.38" width="24.70" height="0.80" fill="#909090"/>
<rect x="350.33" y="519.38" width="24.70" height="0.60" fill="#dcdcdc"/>
<rect x="350.33" y="520.38" width="24.70" height="0.80" fill="#909090"/>
<rect x="350.33" y="521.38" width="24.70" height="0.60" fill="#dcdcdc"/>
<rect x="350.33" y="522.38" width="24.70" height="0.80" fill="#909090"/>
<rect x="350.33" y="523.38" width="24.70" height="0.60" fill="#dcdcdc"/>
<rect x="350.33" y="524.38" width="24.70" height="0.80" fill="#909090"/>
<rect x="350.33" y="525.38" width="24.70" height="0.60" fill="#dcdcdc"/>
<rect x="350.33" y="526.38" width="24.70" height="0.80" fill="#909090"/>
<rect x="350.33" y="527.38" width="24.70" height="0.60" fill="#dcdcdc"/>
<rect x="350.33" y="528.38" width="24.70" height="0.80" fill="#909090"/>
<rect x="350.33" y="529.38" width="24.70" height="0.60" fill="#dcdcdc"/>
<rect x="350.33" y="530.38" width="24.70" height="0.80" fill="#909090"/>
<rect x="350.33" y="531.38" width="24.70" height="0.60" fill="#dcdcdc"/>
<rect x="375.03" y="525.04" width="29.14" height="0.90" fill="#8a8a8a"/>
<rect x="375.03" y="527.04" width="29.14" height="0.90" fill="#8a8a8a"/>
<rect x="375.03" y="529.04" width="29.14" height="0.90" fill="#8a8a8a"/>
<rect x="375.03" y="531.04" width="29.14" height="0.90" fill="#8a8a8a"/>
<rect x="352.77" y="461.48" width="20.09" height="10.92" fill="#c0c0c0" stroke="#000" stroke-width="1" />
<rect x="353.94" y="463.96" width="17.76" height="1.80" fill="#e8e8e8"/>
<rect x="353.94" y="468.80" width="17.76" height="2.20" fill="#e8e8e8"/>
<rect x="357.27" y="467.68" width="10.55" height="1.60" fill="#000"/>
<rect x="361.71" y="463.21" width="4.44" height="1.00" fill="#00e000"/>
<rect x="376.69" y="460.23" width="25.81" height="63.69" fill="#000" />
<rect x="377.25" y="460.98" width="24.70" height="62.20" fill="#c0c0c0" />
<rect x="378.08" y="461.72" width="23.03" height="60.71" fill="#000" />
<rect x="379.47" y="463.59" width="20.53" height="2.20" fill="#d8d8d8"/>
<rect x="380.02" y="466.57" width="19.43" height="1.00" fill="#c0c0c0"/>
<rect x="379.19" y="470.66" width="21.09" height="8.94" fill="#c0c0c0" />
<rect x="382.80" y="468.06" width="12.76" height="6.70" fill="#000" />
<rect x="383.91" y="476.25" width="2.22" height="0.74" fill="#00e000" />
<rect x="379.19" y="481.84" width="6.11" height="17.88" fill="#c0c0c0" />
<rect x="379.19" y="481.84" width="3.36" height="12.66" fill="#000" />
<rect x="379.69" y="482.58" width="2.55" height="3.35" fill="#808080" />
<rect x="379.69" y="487.80" width="2.55" height="1.00" fill="#c0c0c0"/>
<rect x="379.69" y="490.40" width="2.55" height="1.00" fill="#c0c0c0"/>
<rect x="379.19" y="494.50" width="6.11" height="5.21" fill="#808080" />
<rect x="379.19" y="501.58" width="6.11" height="8.57" fill="#c0c0c0" />
<rect x="379.19" y="512.01" width="6.11" height="1.86" fill="#808080" />
<rect x="379.19" y="515.73" width="6.11" height="5.59" fill="#808080" />
<rect x="384.10" y="481.46" width="1.20" height="1.12" fill="#00e000" />
<rect x="386.57" y="481.84" width="6.10" height="17.88" fill="#c0c0c0" />
<rect x="386.57" y="481.84" width="3.36" height="12.66" fill="#000" />
<rect x="387.07" y="482.58" width="2.55" height="3.35" fill="#808080" />
<rect x="387.07" y="487.80" width="2.55" height="1.00" fill="#c0c0c0"/>
<rect x="387.07" y="490.40" width="2.55" height="1.00" fill="#c0c0c0"/>
<rect x="386.57" y="494.50" width="6.10" height="5.21" fill="#808080" />
<rect x="386.57" y="501.58" width="6.10" height="8.57" fill="#c0c0c0" />
<rect x="386.57" y="512.01" width="6.10" height="1.86" fill="#808080" />
<rect x="386.57" y="515.73" width="6.10" height="5.59" fill="#808080" />
<rect x="391.48" y="481.46" width="1.20" height="1.12" fill="#00e000" />
<rect x="393.96" y="481.84" width="6.10" height="17.88" fill="#c0c0c0" />
<rect x="393.96" y="481.84" width="3.36" height="12.66" fill="#000" />
<rect x="394.46" y="482.58" width="2.55" height="3.35" fill="#808080" />
<rect x="394.46" y="487.80" width="2.55" height="1.00" fill="#c0c0c0"/>
<rect x="394.46" y="490.40" width="2.55" height="1.00" fill="#c0c0c0"/>
<rect x="393.96" y="494.50" width="6.10" height="5.21" fill="#808080" />
<rect x="393.96" y="501.58" width="6.10" height="8.57" fill="#c0c0c0" />
<rect x="393.96" y="512.01" width="6.10" height="1.86" fill="#808080" />
<rect x="393.96" y="515.73" width="6.10" height="5.59" fill="#808080" />
<rect x="398.86" y="481.46" width="1.20" height="1.12" fill="#00e000" />
<rect x="223.50" y="184.50" width="40.00" height="31.00" fill="#999" stroke="#000" stroke-width="1" />
<rect x="224.00" y="185.00" width="1.00" height="30.00" fill="#000" />
<rect x="228.00" y="187.00" width="1.50" height="25.00" fill="#444" />
<rect x="229.00" y="188.00" width="27.50" height="23.00" fill="#000" />
<rect x="256.50" y="188.00" width="1.20" height="23.00" fill="#fff"/>
<rect x="229.00" y="211.00" width="28.70" height="1.20" fill="#fff"/>
<rect x="233.00" y="216.00" width="22.00" height="1.50" fill="#000" />
<rect x="233.00" y="218.50" width="22.00" height="2.50" fill="#555" />
<path d="M222.00 223.50 q0 -5 5 -5 h34 q5 0 5 5 v11.5 h-44 z" fill="#fff" stroke="#000" stroke-width="1"/>
<rect x="233.00" y="218.50" width="22.00" height="3.00" fill="#333" />
<rect x="222.00" y="223.50" width="44.00" height="1.00" fill="#000"/>
<rect x="222.00" y="231.00" width="44.00" height="1.00" fill="#000"/>
<rect x="231.50" y="223.50" width="1.00" height="11.50" fill="#000"/>
<rect x="245.50" y="223.50" width="1.00" height="11.50" fill="#000"/>
<rect x="258.50" y="223.50" width="1.00" height="11.50" fill="#000"/>
<rect x="224.00" y="225.00" width="4.00" height="3.50" fill="#000" />
<rect x="234.00" y="227.00" width="8.00" height="1.20" fill="#000"/>
<rect x="261.00" y="226.00" width="2.00" height="4.00" fill="#000" />
<rect x="223.50" y="233.00" width="1.60" height="2.50" fill="#000"/>
<rect x="227.50" y="233.00" width="1.60" height="2.50" fill="#000"/>
<rect x="231.50" y="233.00" width="1.60" height="2.50" fill="#000"/>
<rect x="235.50" y="233.00" width="1.60" height="2.50" fill="#000"/>
<rect x="239.50" y="233.00" width="1.60" height="2.50" fill="#000"/>
<rect x="243.50" y="233.00" width="1.60" height="2.50" fill="#000"/>
<rect x="247.50" y="233.00" width="1.60" height="2.50" fill="#000"/>
<rect x="251.50" y="233.00" width="1.60" height="2.50" fill="#000"/>
<rect x="255.50" y="233.00" width="1.60" height="2.50" fill="#000"/>
<rect x="259.50" y="233.00" width="1.60" height="2.50" fill="#000"/>
<rect x="263.50" y="233.00" width="1.60" height="2.50" fill="#000"/>
<rect x="221.00" y="238.00" width="48.00" height="0.80" fill="#000"/>
<polygon points="216.50,240.00 270.50,240.00 272.00,247.00 215.00,247.00" fill="#000"  />
<rect x="253.00" y="242.50" width="8.00" height="1.00" fill="#fff"/>
<rect x="253.00" y="244.00" width="3.00" height="1.50" fill="#fff"/>
<rect x="213.00" y="245.00" width="1.00" height="1.00" fill="#000" />
<rect x="273.50" y="245.00" width="1.00" height="1.00" fill="#000" />
<rect x="217.00" y="235.00" width="1.00" height="1.00" fill="#000" />
<rect x="269.00" y="234.00" width="1.00" height="1.00" fill="#000" />
<rect x="273.00" y="249.00" width="1.00" height="1.00" fill="#000" />
<rect x="331.50" y="184.50" width="40.00" height="31.00" fill="#999" stroke="#000" stroke-width="1" />
<rect x="332.00" y="185.00" width="1.00" height="30.00" fill="#000" />
<rect x="336.00" y="187.00" width="1.50" height="25.00" fill="#444" />
<rect x="337.00" y="188.00" width="27.50" height="23.00" fill="#000" />
<rect x="364.50" y="188.00" width="1.20" height="23.00" fill="#fff"/>
<rect x="337.00" y="211.00" width="28.70" height="1.20" fill="#fff"/>
<rect x="341.00" y="216.00" width="22.00" height="1.50" fill="#000" />
<rect x="341.00" y="218.50" width="22.00" height="2.50" fill="#555" />
<path d="M330.00 223.50 q0 -5 5 -5 h34 q5 0 5 5 v11.5 h-44 z" fill="#fff" stroke="#000" stroke-width="1"/>
<rect x="341.00" y="218.50" width="22.00" height="3.00" fill="#333" />
<rect x="330.00" y="223.50" width="44.00" height="1.00" fill="#000"/>
<rect x="330.00" y="231.00" width="44.00" height="1.00" fill="#000"/>
<rect x="339.50" y="223.50" width="1.00" height="11.50" fill="#000"/>
<rect x="353.50" y="223.50" width="1.00" height="11.50" fill="#000"/>
<rect x="366.50" y="223.50" width="1.00" height="11.50" fill="#000"/>
<rect x="332.00" y="225.00" width="4.00" height="3.50" fill="#000" />
<rect x="342.00" y="227.00" width="8.00" height="1.20" fill="#000"/>
<rect x="369.00" y="226.00" width="2.00" height="4.00" fill="#000" />
<rect x="331.50" y="233.00" width="1.60" height="2.50" fill="#000"/>
<rect x="335.50" y="233.00" width="1.60" height="2.50" fill="#000"/>
<rect x="339.50" y="233.00" width="1.60" height="2.50" fill="#000"/>
<rect x="343.50" y="233.00" width="1.60" height="2.50" fill="#000"/>
<rect x="347.50" y="233.00" width="1.60" height="2.50" fill="#000"/>
<rect x="351.50" y="233.00" width="1.60" height="2.50" fill="#000"/>
<rect x="355.50" y="233.00" width="1.60" height="2.50" fill="#000"/>
<rect x="359.50" y="233.00" width="1.60" height="2.50" fill="#000"/>
<rect x="363.50" y="233.00" width="1.60" height="2.50" fill="#000"/>
<rect x="367.50" y="233.00" width="1.60" height="2.50" fill="#000"/>
<rect x="371.50" y="233.00" width="1.60" height="2.50" fill="#000"/>
<rect x="329.00" y="238.00" width="48.00" height="0.80" fill="#000"/>
<polygon points="324.50,240.00 378.50,240.00 380.00,247.00 323.00,247.00" fill="#000"  />
<rect x="361.00" y="242.50" width="8.00" height="1.00" fill="#fff"/>
<rect x="361.00" y="244.00" width="3.00" height="1.50" fill="#fff"/>
<rect x="321.00" y="245.00" width="1.00" height="1.00" fill="#000" />
<rect x="381.50" y="245.00" width="1.00" height="1.00" fill="#000" />
<rect x="325.00" y="235.00" width="1.00" height="1.00" fill="#000" />
<rect x="377.00" y="234.00" width="1.00" height="1.00" fill="#000" />
<rect x="381.00" y="249.00" width="1.00" height="1.00" fill="#000" />
<polygon points="298.80,169.20 282.48,180.66 282.34,176.59 268.20,184.60 284.52,173.14 284.66,177.21" fill="#000" stroke="#ff00ff" stroke-width="1.15" stroke-linejoin="miter" shape-rendering="crispEdges"/>
<polygon points="339.20,169.20 354.65,179.95 350.87,181.33 362.80,191.50 346.88,180.31 350.66,178.93" fill="#000" stroke="#ff00ff" stroke-width="1.15" stroke-linejoin="miter" shape-rendering="crispEdges"/>
<rect x="280.00" y="218.00" width="1.00" height="1.00" fill="#000" shape-rendering="crispEdges"/>
<rect x="285.00" y="218.00" width="1.00" height="1.00" fill="#000" shape-rendering="crispEdges"/>
<rect x="290.00" y="218.00" width="1.00" height="1.00" fill="#000" shape-rendering="crispEdges"/>
<rect x="295.00" y="218.00" width="1.00" height="1.00" fill="#000" shape-rendering="crispEdges"/>
<rect x="300.00" y="218.00" width="1.00" height="1.00" fill="#000" shape-rendering="crispEdges"/>
<rect x="305.00" y="218.00" width="1.00" height="1.00" fill="#000" shape-rendering="crispEdges"/>
<rect x="590.00" y="205.00" width="1.00" height="1.00" fill="#ff0000" shape-rendering="crispEdges"/>
<rect x="595.00" y="205.00" width="1.00" height="1.00" fill="#ff0000" shape-rendering="crispEdges"/>
<rect x="600.00" y="205.00" width="1.00" height="1.00" fill="#ff0000" shape-rendering="crispEdges"/>
<rect x="606.00" y="205.00" width="1.00" height="1.00" fill="#ff0000" shape-rendering="crispEdges"/>
<rect x="611.00" y="205.00" width="1.00" height="1.00" fill="#ff0000" shape-rendering="crispEdges"/>
<rect x="616.00" y="205.00" width="1.00" height="1.00" fill="#ff0000" shape-rendering="crispEdges"/>
<g shape-rendering="crispEdges">
<rect x="540.00" y="195.00" width="36.00" height="1.00" fill="#ff00ff"/>
<rect x="540.00" y="195.00" width="1.00" height="46.00" fill="#ff00ff"/>
<rect x="540.00" y="240.00" width="37.00" height="1.00" fill="#ff00ff"/>
<rect x="576.00" y="213.00" width="1.00" height="28.00" fill="#ff00ff"/>
<rect x="558.00" y="198.00" width="18.00" height="1.00" fill="#ff00ff"/>
<rect x="558.00" y="202.00" width="18.00" height="1.00" fill="#ff00ff"/>
<rect x="558.00" y="206.00" width="18.00" height="1.00" fill="#ff00ff"/>
<rect x="558.00" y="210.00" width="18.00" height="1.00" fill="#ff00ff"/>
<rect x="558.00" y="214.00" width="18.00" height="1.00" fill="#ff00ff"/>
<rect x="558.00" y="198.00" width="1.00" height="17.00" fill="#ff00ff"/>
<rect x="566.00" y="198.00" width="1.00" height="17.00" fill="#ff00ff"/>
<rect x="568.00" y="198.00" width="1.00" height="17.00" fill="#ff00ff"/>
<rect x="575.00" y="198.00" width="1.00" height="17.00" fill="#ff00ff"/>
<rect x="558.00" y="216.00" width="18.00" height="2.00" fill="#ff00ff"/>
<rect x="558.00" y="219.00" width="18.00" height="2.00" fill="#ff00ff"/>
<rect x="558.00" y="222.00" width="18.00" height="1.00" fill="#ff00ff"/>
<rect x="558.00" y="224.00" width="18.00" height="1.00" fill="#ff00ff"/>
<rect x="558.00" y="228.00" width="18.00" height="1.00" fill="#ff00ff"/>
<rect x="558.00" y="232.00" width="18.00" height="1.00" fill="#ff00ff"/>
<rect x="558.00" y="236.00" width="18.00" height="1.00" fill="#ff00ff"/>
<rect x="558.00" y="240.00" width="18.00" height="1.00" fill="#ff00ff"/>
<rect x="558.00" y="224.00" width="1.00" height="16.00" fill="#ff00ff"/>
<rect x="562.00" y="224.00" width="1.00" height="16.00" fill="#ff00ff"/>
<rect x="567.00" y="224.00" width="1.00" height="16.00" fill="#ff00ff"/>
<rect x="571.00" y="224.00" width="1.00" height="16.00" fill="#ff00ff"/>
<rect x="575.00" y="224.00" width="1.00" height="16.00" fill="#ff00ff"/>
</g>
<path d="M543.5 201 q0 -2.5 2.5 -2.5 h6 q2.5 0 2.5 2.5 v5.5 q0 2 -1.700 3.500 v19 q1.700 1.500 1.700 3.500 v5.500 q0 2.500 -2.500 2.500 h-6 q-2.500 0 -2.500 -2.500 v-5.500 q0 -2 1.700 -3.500 v-19 q-1.700 -1.500 -1.700 -3.500 z" fill="none" stroke="#ff00ff" stroke-width="1"/>
<path d="M578.5 216 v-3 l1.5 -1.500" stroke="#ff00ff" fill="none" stroke-width="1"/>
<g shape-rendering="crispEdges">
<rect x="634.50" y="195.50" width="38.00" height="45.00" fill="#fff" stroke="#ff00ff" stroke-width="1" />
<rect x="652.00" y="198.00" width="18.00" height="1.00" fill="#ff00ff"/>
<rect x="652.00" y="202.00" width="18.00" height="1.00" fill="#ff00ff"/>
<rect x="652.00" y="206.00" width="18.00" height="1.00" fill="#ff00ff"/>
<rect x="652.00" y="210.00" width="18.00" height="1.00" fill="#ff00ff"/>
<rect x="652.00" y="214.00" width="18.00" height="1.00" fill="#ff00ff"/>
<rect x="652.00" y="198.00" width="1.00" height="17.00" fill="#ff00ff"/>
<rect x="660.00" y="198.00" width="1.00" height="17.00" fill="#ff00ff"/>
<rect x="662.00" y="198.00" width="1.00" height="17.00" fill="#ff00ff"/>
<rect x="669.00" y="198.00" width="1.00" height="17.00" fill="#ff00ff"/>
<rect x="652.00" y="216.00" width="18.00" height="2.00" fill="#ff00ff"/>
<rect x="652.00" y="219.00" width="18.00" height="2.00" fill="#ff00ff"/>
<rect x="652.00" y="222.00" width="18.00" height="1.00" fill="#ff00ff"/>
<rect x="652.00" y="224.00" width="18.00" height="1.00" fill="#ff00ff"/>
<rect x="652.00" y="228.00" width="18.00" height="1.00" fill="#ff00ff"/>
<rect x="652.00" y="232.00" width="18.00" height="1.00" fill="#ff00ff"/>
<rect x="652.00" y="236.00" width="18.00" height="1.00" fill="#ff00ff"/>
<rect x="652.00" y="240.00" width="18.00" height="1.00" fill="#ff00ff"/>
<rect x="652.00" y="224.00" width="1.00" height="16.00" fill="#ff00ff"/>
<rect x="656.00" y="224.00" width="1.00" height="16.00" fill="#ff00ff"/>
<rect x="661.00" y="224.00" width="1.00" height="16.00" fill="#ff00ff"/>
<rect x="665.00" y="224.00" width="1.00" height="16.00" fill="#ff00ff"/>
<rect x="669.00" y="224.00" width="1.00" height="16.00" fill="#ff00ff"/>
</g>
<path d="M637.5 201 q0 -2.5 2.5 -2.5 h6 q2.5 0 2.5 2.5 v5.5 q0 2 -1.700 3.500 v19 q1.700 1.500 1.700 3.500 v5.500 q0 2.500 -2.500 2.500 h-6 q-2.500 0 -2.500 -2.500 v-5.500 q0 -2 1.700 -3.500 v-19 q-1.700 -1.500 -1.700 -3.500 z" fill="none" stroke="#ff00ff" stroke-width="1"/>
<rect x="374.50" y="305.00" width="61.00" height="3.00" fill="#0000ff" />
<rect x="370.00" y="307.00" width="70.00" height="66.00" fill="#0000ff" />
<rect x="371.00" y="308.00" width="3.50" height="64.00" fill="#808080" />
<rect x="435.50" y="308.00" width="3.50" height="64.00" fill="#808080" />
<rect x="389.00" y="306.00" width="45.50" height="2.50" fill="#c0c0c0" />
<rect x="376.00" y="306.00" width="12.00" height="1.00" fill="#c0c0c0" />
<rect x="376.00" y="310.00" width="5.50" height="2.00" fill="#fff" />
<rect x="383.50" y="309.50" width="1.50" height="1.20" fill="#808080" />
<rect x="386.90" y="309.50" width="1.50" height="1.20" fill="#808080" />
<rect x="390.30" y="309.50" width="1.50" height="1.20" fill="#808080" />
<rect x="393.70" y="309.50" width="1.50" height="1.20" fill="#808080" />
<rect x="376.00" y="315.10" width="27.00" height="1.00" fill="#d0d0d0"/>
<rect x="376.00" y="318.80" width="27.00" height="1.00" fill="#d0d0d0"/>
<rect x="376.00" y="322.00" width="27.00" height="1.00" fill="#d0d0d0"/>
<rect x="376.00" y="325.80" width="27.00" height="1.00" fill="#d0d0d0"/>
<rect x="376.00" y="329.80" width="58.00" height="1.00" fill="#d0d0d0"/>
<rect x="376.00" y="334.00" width="58.00" height="1.00" fill="#d0d0d0"/>
<rect x="376.00" y="336.90" width="58.00" height="1.00" fill="#d0d0d0"/>
<rect x="376.00" y="340.00" width="58.00" height="1.00" fill="#d0d0d0"/>
<rect x="376.00" y="344.90" width="58.00" height="1.00" fill="#d0d0d0"/>
<rect x="376.00" y="348.90" width="58.00" height="1.00" fill="#d0d0d0"/>
<rect x="376.00" y="352.10" width="58.00" height="1.00" fill="#d0d0d0"/>
<rect x="376.00" y="355.20" width="58.00" height="1.00" fill="#d0d0d0"/>
<rect x="376.00" y="359.00" width="58.00" height="1.00" fill="#d0d0d0"/>
<rect x="376.00" y="363.00" width="58.00" height="1.00" fill="#d0d0d0"/>
<rect x="376.00" y="366.90" width="58.00" height="1.00" fill="#d0d0d0"/>
<rect x="376.00" y="369.20" width="58.00" height="2.60" fill="#c0c0c0" />
<rect x="403.00" y="312.00" width="31.00" height="18.50" fill="#c0c0c0" />
<rect x="407.00" y="313.30" width="24.00" height="13.50" fill="#0000ff" />
<rect x="408.40" y="314.40" width="21.20" height="11.20" fill="none" stroke="#c0c0c0" stroke-width="0.8" />
<rect x="408.00" y="318.00" width="22.00" height="0.80" fill="#c0c0c0"/>
<rect x="411.50" y="315.00" width="14.50" height="2.00" fill="#000" />
<rect x="427.50" y="314.50" width="1.00" height="3.00" fill="#000"/>
<path d="M440.500 339 L455 325 V332.500 H487.500 V325 L502.500 339 L487.500 353.500 V345.500 H455 V353.500 Z" fill="#fff" stroke="#000080" stroke-width="1"/>
<text x="452.50" y="341.80" font-family='"Liberation Sans","Noto Sans CJK SC",sans-serif' font-size="10.5" font-weight="normal" fill="#ff0000" textLength="37.00" lengthAdjust="spacing" >SCBUS</text>
<path d="M521.5 316.5 h5 v23 h38 v-23 h5 v48 h-48 z" fill="#fff" stroke="#0000ff" stroke-width="1"/>
<rect x="526.00" y="320.50" width="38.00" height="1.00" fill="#0000ff"/>
<rect x="521.00" y="349.00" width="48.00" height="1.00" fill="#0000ff"/>
<path d="M529.5 306.5 h24 l8.5 10 v20.5 h-32.5 z" fill="#fff" stroke="#0000ff" stroke-width="1"/>
<path d="M553.5 306.5 v10 h8.5" fill="none" stroke="#0000ff" stroke-width="1"/>
<rect x="532.00" y="312.50" width="8.00" height="1.00" fill="#0000ff"/>
<rect x="543.00" y="312.50" width="6.00" height="1.00" fill="#0000ff"/>
<rect x="532.00" y="317.70" width="13.00" height="1.00" fill="#0000ff"/>
<rect x="547.00" y="317.70" width="11.00" height="1.00" fill="#0000ff"/>
<rect x="532.00" y="322.70" width="6.00" height="1.00" fill="#0000ff"/>
<rect x="541.00" y="322.70" width="10.00" height="1.00" fill="#0000ff"/>
<rect x="553.00" y="322.70" width="4.00" height="1.00" fill="#0000ff"/>
<rect x="532.00" y="327.70" width="11.00" height="1.00" fill="#0000ff"/>
<rect x="545.00" y="327.70" width="8.00" height="1.00" fill="#0000ff"/>
<rect x="532.00" y="331.70" width="6.00" height="1.00" fill="#0000ff"/>
<rect x="541.00" y="331.70" width="10.00" height="1.00" fill="#0000ff"/>
<rect x="553.00" y="331.70" width="4.00" height="1.00" fill="#0000ff"/>
<rect x="524.00" y="351.50" width="13.00" height="3.50" fill="#c0c0c0" stroke="#0000ff" stroke-width="1" />
<rect x="524.00" y="358.00" width="13.00" height="3.50" fill="#c0c0c0" stroke="#0000ff" stroke-width="1" />
<rect x="528.50" y="357.50" width="1.00" height="4.50" fill="#0000ff"/>
<rect x="552.50" y="351.50" width="14.00" height="10.00" fill="#c0c0c0" stroke="#0000ff" stroke-width="1" />
<rect x="511.50" y="323.50" width="9.50" height="32.50" fill="#fff" stroke="#0000ff" stroke-width="1" />
<rect x="513.30" y="324.30" width="5.90" height="30.90" fill="none" stroke="#0000ff" stroke-width="0.6" />
<path d="M514.7 325 h3 q1.7 0 1.7 1.7 v4 q0 1.7 -1.7 2 v15 q1.7 0.3 1.7 2 v4 q0 1.7 -1.7 1.7 h-3 q-1.7 0 -1.7 -1.7 v-4 q0 -1.7 1.7 -2 v-15 q-1.7 -0.3 -1.7 -2 v-4 q0 -1.7 1.7 -1.7 z" fill="#000"/>
<rect x="502.50" y="372.50" width="87.00" height="27.00" fill="#fff" stroke="#000" stroke-width="1" />
<rect x="541.00" y="411.50" width="74.50" height="18.00" fill="#fff" stroke="#000" stroke-width="1" />
<rect x="540.50" y="419.30" width="75.50" height="1.00" fill="#000"/>
<rect x="544.00" y="413.00" width="5.6" height="4.8" rx="1.6" fill="#000"/>
<rect x="550.80" y="413.00" width="5.6" height="4.8" rx="1.6" fill="#000"/>
<rect x="557.60" y="413.00" width="5.6" height="4.8" rx="1.6" fill="#000"/>
<rect x="564.40" y="413.00" width="5.6" height="4.8" rx="1.6" fill="#000"/>
<rect x="571.20" y="413.00" width="5.6" height="4.8" rx="1.6" fill="#000"/>
<rect x="578.00" y="413.00" width="5.6" height="4.8" rx="1.6" fill="#000"/>
<rect x="584.80" y="413.00" width="5.6" height="4.8" rx="1.6" fill="#000"/>
<rect x="591.60" y="413.00" width="5.6" height="4.8" rx="1.6" fill="#000"/>
<rect x="598.40" y="413.00" width="5.6" height="4.8" rx="1.6" fill="#000"/>
<rect x="605.20" y="413.00" width="5.6" height="4.8" rx="1.6" fill="#000"/>
<rect x="544.00" y="422.20" width="5.6" height="4.8" rx="1.6" fill="#000"/>
<rect x="550.80" y="422.20" width="5.6" height="4.8" rx="1.6" fill="#000"/>
<rect x="557.60" y="422.20" width="5.6" height="4.8" rx="1.6" fill="#000"/>
<rect x="564.40" y="422.20" width="5.6" height="4.8" rx="1.6" fill="#000"/>
<rect x="571.20" y="422.20" width="5.6" height="4.8" rx="1.6" fill="#000"/>
<rect x="578.00" y="422.20" width="5.6" height="4.8" rx="1.6" fill="#000"/>
<rect x="584.80" y="422.20" width="5.6" height="4.8" rx="1.6" fill="#000"/>
<rect x="591.60" y="422.20" width="5.6" height="4.8" rx="1.6" fill="#000"/>
<rect x="598.40" y="422.20" width="5.6" height="4.8" rx="1.6" fill="#000"/>
<rect x="605.20" y="422.20" width="5.6" height="4.8" rx="1.6" fill="#000"/>
<rect x="735.34" y="251.00" width="33.32" height="3.10" fill="#808080" stroke="#0000ff" stroke-width="1" />
<rect x="759.92" y="251.60" width="1.00" height="1.00" fill="#00e000" />
<polygon points="744.08,254.60 759.92,254.60 765.20,259.50 738.80,259.50" fill="#0000ff"  />
<rect x="743.20" y="256.14" width="17.60" height="1.32" fill="#808080"/>
<rect x="730.50" y="214.50" width="43.00" height="36.00" fill="#c0c0c0" stroke="#0000ff" stroke-width="1" />
<rect x="734.62" y="218.62" width="33.88" height="26.09" fill="#000" />
<rect x="733.96" y="246.56" width="7.92" height="2.41" fill="#0000ff" />
<rect x="720.50" y="259.50" width="57.00" height="17.00" fill="#c0c0c0" stroke="#000" stroke-width="1" />
<rect x="720.00" y="272.68" width="58.00" height="4.32" fill="#000" />
<rect x="726.38" y="273.94" width="45.24" height="1.98" fill="#808080" />
<rect x="721.16" y="274.48" width="3.48" height="1.00" fill="#808080"/>
<rect x="773.36" y="274.48" width="3.48" height="1.00" fill="#808080"/>
<rect x="721.74" y="261.16" width="5.22" height="4.50" fill="#808080" />
<rect x="740.01" y="259.00" width="1.00" height="13.68" fill="#000"/>
<rect x="740.59" y="268.00" width="11.31" height="1.00" fill="#000"/>
<rect x="751.90" y="259.00" width="1.00" height="13.68" fill="#000"/>
<rect x="741.46" y="263.50" width="2.90" height="2.34" fill="#000" />
<rect x="745.52" y="264.76" width="0.87" height="1.08" fill="#00e000" />
<rect x="748.13" y="264.76" width="0.87" height="1.08" fill="#00e000" />
<rect x="754.43" y="262.20" width="20.75" height="8.18" fill="#c0c0c0" stroke="#000" stroke-width="1" />
<rect x="754.80" y="265.66" width="20.01" height="1.00" fill="#000"/>
<rect x="755.96" y="263.32" width="11.60" height="1.20" fill="#fff"/>
<rect x="768.14" y="262.06" width="1.00" height="3.60" fill="#000"/>
<rect x="777.00" y="254.00" width="24.00" height="23.00" fill="#000" />
<polygon points="778.00,255.00 799.00,255.00 797.00,256.70 779.70,256.70 779.70,273.70 778.00,275.50" fill="#fff"  />
<polygon points="800.00,276.00 800.00,256.00 797.30,257.50 797.30,274.00 780.00,274.00 778.50,276.00" fill="#808080"  />
<rect x="780.20" y="257.20" width="16.60" height="16.30" fill="#b0b0b0" stroke="#000" stroke-width="1" />
<rect x="778.60" y="255.60" width="1.00" height="1.00" fill="#000" />
<rect x="797.80" y="255.60" width="1.00" height="1.00" fill="#000" />
<rect x="778.60" y="274.00" width="1.00" height="1.00" fill="#000" />
<rect x="797.80" y="274.00" width="1.00" height="1.00" fill="#000" />
<path d="M784.90 267.90 l3.200 0.300 l5.200 -5.200 l-0.300 -3.200" fill="none" stroke="#fff" stroke-width="4.2" stroke-linejoin="round" stroke-linecap="round"/>
<path d="M786.00 268.70 l3 0.300 l5.200 -5.200 l-0.300 -3" fill="none" stroke="#000" stroke-width="2.3" stroke-linejoin="round" stroke-linecap="round"/>
<rect x="905.34" y="251.00" width="33.32" height="3.10" fill="#808080" stroke="#000" stroke-width="1" />
<rect x="929.92" y="251.60" width="1.00" height="1.00" fill="#00e000" />
<polygon points="914.08,254.60 929.92,254.60 935.20,259.50 908.80,259.50" fill="#000"  />
<rect x="913.20" y="256.14" width="17.60" height="1.32" fill="#808080"/>
<rect x="900.50" y="214.50" width="43.00" height="36.00" fill="#c0c0c0" stroke="#000" stroke-width="1" />
<rect x="904.62" y="218.62" width="33.88" height="26.09" fill="#000" />
<rect x="903.96" y="246.56" width="7.92" height="2.41" fill="#999" />
<rect x="890.50" y="259.50" width="57.00" height="17.00" fill="#c0c0c0" stroke="#000" stroke-width="1" />
<rect x="890.00" y="272.68" width="58.00" height="4.32" fill="#000" />
<rect x="896.38" y="273.94" width="45.24" height="1.98" fill="#808080" />
<rect x="891.16" y="274.48" width="3.48" height="1.00" fill="#808080"/>
<rect x="943.36" y="274.48" width="3.48" height="1.00" fill="#808080"/>
<rect x="891.74" y="261.16" width="5.22" height="4.50" fill="#808080" />
<rect x="910.01" y="259.00" width="1.00" height="13.68" fill="#000"/>
<rect x="910.59" y="268.00" width="11.31" height="1.00" fill="#000"/>
<rect x="921.90" y="259.00" width="1.00" height="13.68" fill="#000"/>
<rect x="911.46" y="263.50" width="2.90" height="2.34" fill="#000" />
<rect x="915.52" y="264.76" width="0.87" height="1.08" fill="#00e000" />
<rect x="918.13" y="264.76" width="0.87" height="1.08" fill="#00e000" />
<rect x="924.43" y="262.20" width="20.75" height="8.18" fill="#c0c0c0" stroke="#000" stroke-width="1" />
<rect x="924.80" y="265.66" width="20.01" height="1.00" fill="#000"/>
<rect x="925.96" y="263.32" width="11.60" height="1.20" fill="#fff"/>
<rect x="938.14" y="262.06" width="1.00" height="3.60" fill="#000"/>
<rect x="947.00" y="254.00" width="24.00" height="23.00" fill="#000" />
<polygon points="948.00,255.00 969.00,255.00 967.00,256.70 949.70,256.70 949.70,273.70 948.00,275.50" fill="#fff"  />
<polygon points="970.00,276.00 970.00,256.00 967.30,257.50 967.30,274.00 950.00,274.00 948.50,276.00" fill="#808080"  />
<rect x="950.20" y="257.20" width="16.60" height="16.30" fill="#b0b0b0" stroke="#000" stroke-width="1" />
<rect x="948.60" y="255.60" width="1.00" height="1.00" fill="#000" />
<rect x="967.80" y="255.60" width="1.00" height="1.00" fill="#000" />
<rect x="948.60" y="274.00" width="1.00" height="1.00" fill="#000" />
<rect x="967.80" y="274.00" width="1.00" height="1.00" fill="#000" />
<path d="M954.90 267.90 l3.200 0.300 l5.200 -5.200 l-0.300 -3.200" fill="none" stroke="#fff" stroke-width="4.2" stroke-linejoin="round" stroke-linecap="round"/>
<path d="M956.00 268.70 l3 0.300 l5.200 -5.200 l-0.300 -3" fill="none" stroke="#000" stroke-width="2.3" stroke-linejoin="round" stroke-linecap="round"/>
<rect x="736.45" y="355.00" width="34.10" height="3.10" fill="#808080" stroke="#000" stroke-width="1" />
<rect x="761.60" y="355.60" width="1.00" height="1.00" fill="#00e000" />
<polygon points="745.40,358.60 761.60,358.60 767.00,363.50 740.00,363.50" fill="#000"  />
<rect x="744.50" y="360.14" width="18.00" height="1.32" fill="#808080"/>
<rect x="731.50" y="318.50" width="44.00" height="36.00" fill="#c0c0c0" stroke="#000" stroke-width="1" />
<rect x="735.73" y="322.62" width="34.65" height="26.08" fill="#000" />
<rect x="735.05" y="350.56" width="8.10" height="2.40" fill="#999" />
<rect x="722.50" y="363.50" width="57.00" height="17.00" fill="#c0c0c0" stroke="#000" stroke-width="1" />
<rect x="722.00" y="376.68" width="58.00" height="4.32" fill="#000" />
<rect x="728.38" y="377.94" width="45.24" height="1.98" fill="#808080" />
<rect x="723.16" y="378.48" width="3.48" height="1.00" fill="#808080"/>
<rect x="775.36" y="378.48" width="3.48" height="1.00" fill="#808080"/>
<rect x="723.74" y="365.16" width="5.22" height="4.50" fill="#808080" />
<rect x="742.01" y="363.00" width="1.00" height="13.68" fill="#000"/>
<rect x="742.59" y="372.00" width="11.31" height="1.00" fill="#000"/>
<rect x="753.90" y="363.00" width="1.00" height="13.68" fill="#000"/>
<rect x="743.46" y="367.50" width="2.90" height="2.34" fill="#000" />
<rect x="747.52" y="368.76" width="0.87" height="1.08" fill="#00e000" />
<rect x="750.13" y="368.76" width="0.87" height="1.08" fill="#00e000" />
<rect x="756.43" y="366.20" width="20.75" height="8.18" fill="#c0c0c0" stroke="#000" stroke-width="1" />
<rect x="756.80" y="369.66" width="20.01" height="1.00" fill="#000"/>
<rect x="757.96" y="367.32" width="11.60" height="1.20" fill="#fff"/>
<rect x="770.14" y="366.06" width="1.00" height="3.60" fill="#000"/>
<rect x="779.00" y="357.00" width="24.00" height="24.00" fill="#000" />
<polygon points="780.00,358.00 801.00,358.00 799.00,359.70 781.70,359.70 781.70,377.70 780.00,379.50" fill="#fff"  />
<polygon points="802.00,380.00 802.00,359.00 799.30,360.50 799.30,378.00 782.00,378.00 780.50,380.00" fill="#808080"  />
<rect x="782.20" y="360.20" width="16.60" height="17.30" fill="#b0b0b0" stroke="#000" stroke-width="1" />
<rect x="780.60" y="358.60" width="1.00" height="1.00" fill="#000" />
<rect x="799.80" y="358.60" width="1.00" height="1.00" fill="#000" />
<rect x="780.60" y="378.00" width="1.00" height="1.00" fill="#000" />
<rect x="799.80" y="378.00" width="1.00" height="1.00" fill="#000" />
<path d="M786.90 370.90 l3.200 0.300 l5.200 -5.200 l-0.300 -3.200" fill="none" stroke="#fff" stroke-width="4.2" stroke-linejoin="round" stroke-linecap="round"/>
<path d="M788.00 371.70 l3 0.300 l5.200 -5.200 l-0.300 -3" fill="none" stroke="#000" stroke-width="2.3" stroke-linejoin="round" stroke-linecap="round"/>
<rect x="906.45" y="355.00" width="34.10" height="3.10" fill="#808080" stroke="#000" stroke-width="1" />
<rect x="931.60" y="355.60" width="1.00" height="1.00" fill="#00e000" />
<polygon points="915.40,358.60 931.60,358.60 937.00,363.50 910.00,363.50" fill="#000"  />
<rect x="914.50" y="360.14" width="18.00" height="1.32" fill="#808080"/>
<rect x="901.50" y="318.50" width="44.00" height="36.00" fill="#c0c0c0" stroke="#000" stroke-width="1" />
<rect x="905.73" y="322.62" width="34.65" height="26.08" fill="#000" />
<rect x="905.05" y="350.56" width="8.10" height="2.40" fill="#999" />
<rect x="892.50" y="363.50" width="57.00" height="17.00" fill="#c0c0c0" stroke="#000" stroke-width="1" />
<rect x="892.00" y="376.68" width="58.00" height="4.32" fill="#000" />
<rect x="898.38" y="377.94" width="45.24" height="1.98" fill="#808080" />
<rect x="893.16" y="378.48" width="3.48" height="1.00" fill="#808080"/>
<rect x="945.36" y="378.48" width="3.48" height="1.00" fill="#808080"/>
<rect x="893.74" y="365.16" width="5.22" height="4.50" fill="#808080" />
<rect x="912.01" y="363.00" width="1.00" height="13.68" fill="#000"/>
<rect x="912.59" y="372.00" width="11.31" height="1.00" fill="#000"/>
<rect x="923.90" y="363.00" width="1.00" height="13.68" fill="#000"/>
<rect x="913.46" y="367.50" width="2.90" height="2.34" fill="#000" />
<rect x="917.52" y="368.76" width="0.87" height="1.08" fill="#00e000" />
<rect x="920.13" y="368.76" width="0.87" height="1.08" fill="#00e000" />
<rect x="926.43" y="366.20" width="20.75" height="8.18" fill="#c0c0c0" stroke="#000" stroke-width="1" />
<rect x="926.80" y="369.66" width="20.01" height="1.00" fill="#000"/>
<rect x="927.96" y="367.32" width="11.60" height="1.20" fill="#fff"/>
<rect x="940.14" y="366.06" width="1.00" height="3.60" fill="#000"/>
<rect x="949.00" y="357.00" width="24.00" height="24.00" fill="#000" />
<polygon points="950.00,358.00 971.00,358.00 969.00,359.70 951.70,359.70 951.70,377.70 950.00,379.50" fill="#fff"  />
<polygon points="972.00,380.00 972.00,359.00 969.30,360.50 969.30,378.00 952.00,378.00 950.50,380.00" fill="#808080"  />
<rect x="952.20" y="360.20" width="16.60" height="17.30" fill="#b0b0b0" stroke="#000" stroke-width="1" />
<rect x="950.60" y="358.60" width="1.00" height="1.00" fill="#000" />
<rect x="969.80" y="358.60" width="1.00" height="1.00" fill="#000" />
<rect x="950.60" y="378.00" width="1.00" height="1.00" fill="#000" />
<rect x="969.80" y="378.00" width="1.00" height="1.00" fill="#000" />
<path d="M956.90 370.90 l3.200 0.300 l5.200 -5.200 l-0.300 -3.200" fill="none" stroke="#fff" stroke-width="4.2" stroke-linejoin="round" stroke-linecap="round"/>
<path d="M958.00 371.70 l3 0.300 l5.200 -5.200 l-0.300 -3" fill="none" stroke="#000" stroke-width="2.3" stroke-linejoin="round" stroke-linecap="round"/>
<rect x="723.56" y="505.00" width="34.88" height="4.00" fill="#808080" stroke="#000" stroke-width="1" />
<rect x="749.28" y="505.60" width="1.00" height="1.00" fill="#00e000" />
<polygon points="732.72,509.50 749.28,509.50 754.80,515.50 727.20,515.50" fill="#000"  />
<rect x="731.80" y="511.43" width="18.40" height="1.65" fill="#808080"/>
<rect x="718.50" y="467.50" width="45.00" height="37.00" fill="#c0c0c0" stroke="#000" stroke-width="1" />
<rect x="722.83" y="471.75" width="35.42" height="26.79" fill="#000" />
<rect x="722.14" y="500.44" width="8.28" height="2.47" fill="#999" />
<rect x="709.50" y="515.50" width="65.00" height="20.00" fill="#c0c0c0" stroke="#000" stroke-width="1" />
<rect x="709.00" y="530.96" width="66.00" height="5.04" fill="#000" />
<rect x="716.26" y="532.43" width="51.48" height="2.31" fill="#808080" />
<rect x="710.32" y="533.06" width="3.96" height="1.00" fill="#808080"/>
<rect x="769.72" y="533.06" width="3.96" height="1.00" fill="#808080"/>
<rect x="710.98" y="517.52" width="5.94" height="5.25" fill="#808080" />
<rect x="731.77" y="515.00" width="1.00" height="15.96" fill="#000"/>
<rect x="732.43" y="525.50" width="12.87" height="1.00" fill="#000"/>
<rect x="745.30" y="515.00" width="1.00" height="15.96" fill="#000"/>
<rect x="733.42" y="520.25" width="3.30" height="2.73" fill="#000" />
<rect x="738.04" y="521.72" width="0.99" height="1.26" fill="#00e000" />
<rect x="741.01" y="521.72" width="0.99" height="1.26" fill="#00e000" />
<rect x="748.11" y="518.65" width="23.75" height="9.71" fill="#c0c0c0" stroke="#000" stroke-width="1" />
<rect x="748.60" y="522.77" width="22.77" height="1.00" fill="#000"/>
<rect x="749.92" y="520.04" width="13.20" height="1.20" fill="#fff"/>
<rect x="763.78" y="518.57" width="1.00" height="4.20" fill="#000"/>
<rect x="803.56" y="505.00" width="34.88" height="4.00" fill="#808080" stroke="#000" stroke-width="1" />
<rect x="829.28" y="505.60" width="1.00" height="1.00" fill="#00e000" />
<polygon points="812.72,509.50 829.28,509.50 834.80,515.50 807.20,515.50" fill="#000"  />
<rect x="811.80" y="511.43" width="18.40" height="1.65" fill="#808080"/>
<rect x="798.50" y="467.50" width="45.00" height="37.00" fill="#c0c0c0" stroke="#000" stroke-width="1" />
<rect x="802.83" y="471.75" width="35.42" height="26.79" fill="#000" />
<rect x="802.14" y="500.44" width="8.28" height="2.47" fill="#999" />
<rect x="789.50" y="515.50" width="66.00" height="20.00" fill="#c0c0c0" stroke="#000" stroke-width="1" />
<rect x="789.00" y="530.96" width="67.00" height="5.04" fill="#000" />
<rect x="796.37" y="532.43" width="52.26" height="2.31" fill="#808080" />
<rect x="790.34" y="533.06" width="4.02" height="1.00" fill="#808080"/>
<rect x="850.64" y="533.06" width="4.02" height="1.00" fill="#808080"/>
<rect x="791.01" y="517.52" width="6.03" height="5.25" fill="#808080" />
<rect x="812.12" y="515.00" width="1.00" height="15.96" fill="#000"/>
<rect x="812.78" y="525.50" width="13.07" height="1.00" fill="#000"/>
<rect x="825.85" y="515.00" width="1.00" height="15.96" fill="#000"/>
<rect x="813.79" y="520.25" width="3.35" height="2.73" fill="#000" />
<rect x="818.48" y="521.72" width="1.00" height="1.26" fill="#00e000" />
<rect x="821.50" y="521.72" width="1.00" height="1.26" fill="#00e000" />
<rect x="828.70" y="518.65" width="24.12" height="9.71" fill="#c0c0c0" stroke="#000" stroke-width="1" />
<rect x="829.20" y="522.77" width="23.12" height="1.00" fill="#000"/>
<rect x="830.54" y="520.04" width="13.40" height="1.20" fill="#fff"/>
<rect x="844.61" y="518.57" width="1.00" height="4.20" fill="#000"/>
<rect x="928.56" y="505.00" width="34.88" height="4.00" fill="#808080" stroke="#000" stroke-width="1" />
<rect x="954.28" y="505.60" width="1.00" height="1.00" fill="#00e000" />
<polygon points="937.72,509.50 954.28,509.50 959.80,515.50 932.20,515.50" fill="#000"  />
<rect x="936.80" y="511.43" width="18.40" height="1.65" fill="#808080"/>
<rect x="923.50" y="467.50" width="45.00" height="37.00" fill="#c0c0c0" stroke="#000" stroke-width="1" />
<rect x="927.83" y="471.75" width="35.42" height="26.79" fill="#000" />
<rect x="927.14" y="500.44" width="8.28" height="2.47" fill="#999" />
<rect x="914.50" y="515.50" width="66.00" height="20.00" fill="#c0c0c0" stroke="#000" stroke-width="1" />
<rect x="914.00" y="530.96" width="67.00" height="5.04" fill="#000" />
<rect x="921.37" y="532.43" width="52.26" height="2.31" fill="#808080" />
<rect x="915.34" y="533.06" width="4.02" height="1.00" fill="#808080"/>
<rect x="975.64" y="533.06" width="4.02" height="1.00" fill="#808080"/>
<rect x="916.01" y="517.52" width="6.03" height="5.25" fill="#808080" />
<rect x="937.12" y="515.00" width="1.00" height="15.96" fill="#000"/>
<rect x="937.78" y="525.50" width="13.07" height="1.00" fill="#000"/>
<rect x="950.85" y="515.00" width="1.00" height="15.96" fill="#000"/>
<rect x="938.79" y="520.25" width="3.35" height="2.73" fill="#000" />
<rect x="943.48" y="521.72" width="1.00" height="1.26" fill="#00e000" />
<rect x="946.50" y="521.72" width="1.00" height="1.26" fill="#00e000" />
<rect x="953.70" y="518.65" width="24.12" height="9.71" fill="#c0c0c0" stroke="#000" stroke-width="1" />
<rect x="954.20" y="522.77" width="23.12" height="1.00" fill="#000"/>
<rect x="955.54" y="520.04" width="13.40" height="1.20" fill="#fff"/>
<rect x="969.61" y="518.57" width="1.00" height="4.20" fill="#000"/>
<rect x="509.02" y="503.50" width="23.96" height="1.52" fill="#808080" stroke="#000" stroke-width="1" />
<rect x="526.76" y="504.10" width="1.00" height="1.00" fill="#00e000" />
<polygon points="515.24,505.52 526.76,505.52 530.60,508.50 511.40,508.50" fill="#000"  />
<rect x="514.60" y="506.39" width="12.80" height="1.00" fill="#808080"/>
<rect x="505.50" y="476.50" width="31.00" height="26.50" fill="#c0c0c0" stroke="#000" stroke-width="1" />
<rect x="508.36" y="479.44" width="24.64" height="19.39" fill="#000" />
<rect x="507.88" y="500.20" width="5.76" height="1.79" fill="#999" />
<rect x="500.50" y="508.50" width="41.00" height="12.00" fill="#c0c0c0" stroke="#000" stroke-width="1" />
<rect x="500.00" y="517.88" width="42.00" height="3.12" fill="#000" />
<rect x="504.62" y="518.79" width="32.76" height="1.43" fill="#808080" />
<rect x="500.84" y="519.18" width="2.52" height="1.00" fill="#808080"/>
<rect x="538.64" y="519.18" width="2.52" height="1.00" fill="#808080"/>
<rect x="501.26" y="509.56" width="3.78" height="3.25" fill="#808080" />
<rect x="514.49" y="508.00" width="1.00" height="9.88" fill="#000"/>
<rect x="514.91" y="514.50" width="8.19" height="1.00" fill="#000"/>
<rect x="523.10" y="508.00" width="1.00" height="9.88" fill="#000"/>
<rect x="515.54" y="511.25" width="2.10" height="1.69" fill="#000" />
<rect x="518.48" y="512.16" width="0.63" height="0.78" fill="#00e000" />
<rect x="520.37" y="512.16" width="0.63" height="0.78" fill="#00e000" />
<rect x="525.07" y="510.45" width="14.75" height="5.63" fill="#c0c0c0" stroke="#000" stroke-width="1" />
<rect x="525.20" y="512.81" width="14.49" height="1.00" fill="#000"/>
<rect x="526.04" y="511.12" width="8.40" height="1.20" fill="#fff"/>
<rect x="534.86" y="510.21" width="1.00" height="2.60" fill="#000"/>
<rect x="611.02" y="503.50" width="23.96" height="1.52" fill="#808080" stroke="#000" stroke-width="1" />
<rect x="628.76" y="504.10" width="1.00" height="1.00" fill="#00e000" />
<polygon points="617.24,505.52 628.76,505.52 632.60,508.50 613.40,508.50" fill="#000"  />
<rect x="616.60" y="506.39" width="12.80" height="1.00" fill="#808080"/>
<rect x="607.50" y="476.50" width="31.00" height="26.50" fill="#c0c0c0" stroke="#000" stroke-width="1" />
<rect x="610.36" y="479.44" width="24.64" height="19.39" fill="#000" />
<rect x="609.88" y="500.20" width="5.76" height="1.79" fill="#999" />
<rect x="603.50" y="508.50" width="40.00" height="12.00" fill="#c0c0c0" stroke="#000" stroke-width="1" />
<rect x="603.00" y="517.88" width="41.00" height="3.12" fill="#000" />
<rect x="607.51" y="518.79" width="31.98" height="1.43" fill="#808080" />
<rect x="603.82" y="519.18" width="2.46" height="1.00" fill="#808080"/>
<rect x="640.72" y="519.18" width="2.46" height="1.00" fill="#808080"/>
<rect x="604.23" y="509.56" width="3.69" height="3.25" fill="#808080" />
<rect x="617.14" y="508.00" width="1.00" height="9.88" fill="#000"/>
<rect x="617.55" y="514.50" width="8.00" height="1.00" fill="#000"/>
<rect x="625.55" y="508.00" width="1.00" height="9.88" fill="#000"/>
<rect x="618.17" y="511.25" width="2.05" height="1.69" fill="#000" />
<rect x="621.04" y="512.16" width="0.62" height="0.78" fill="#00e000" />
<rect x="622.88" y="512.16" width="0.62" height="0.78" fill="#00e000" />
<rect x="627.49" y="510.45" width="14.38" height="5.63" fill="#c0c0c0" stroke="#000" stroke-width="1" />
<rect x="627.60" y="512.81" width="14.14" height="1.00" fill="#000"/>
<rect x="628.42" y="511.12" width="8.20" height="1.20" fill="#fff"/>
<rect x="637.03" y="510.21" width="1.00" height="2.60" fill="#000"/>
<rect x="509.02" y="579.00" width="23.96" height="1.75" fill="#808080" stroke="#000" stroke-width="1" />
<rect x="526.76" y="579.60" width="1.00" height="1.00" fill="#00e000" />
<polygon points="515.24,581.25 526.76,581.25 530.60,584.50 511.40,584.50" fill="#000"  />
<rect x="514.60" y="582.21" width="12.80" height="1.00" fill="#808080"/>
<rect x="505.50" y="552.50" width="31.00" height="26.00" fill="#c0c0c0" stroke="#000" stroke-width="1" />
<rect x="508.36" y="555.38" width="24.64" height="19.03" fill="#000" />
<rect x="507.88" y="575.76" width="5.76" height="1.75" fill="#999" />
<rect x="500.50" y="584.50" width="41.00" height="12.00" fill="#c0c0c0" stroke="#000" stroke-width="1" />
<rect x="500.00" y="593.88" width="42.00" height="3.12" fill="#000" />
<rect x="504.62" y="594.79" width="32.76" height="1.43" fill="#808080" />
<rect x="500.84" y="595.18" width="2.52" height="1.00" fill="#808080"/>
<rect x="538.64" y="595.18" width="2.52" height="1.00" fill="#808080"/>
<rect x="501.26" y="585.56" width="3.78" height="3.25" fill="#808080" />
<rect x="514.49" y="584.00" width="1.00" height="9.88" fill="#000"/>
<rect x="514.91" y="590.50" width="8.19" height="1.00" fill="#000"/>
<rect x="523.10" y="584.00" width="1.00" height="9.88" fill="#000"/>
<rect x="515.54" y="587.25" width="2.10" height="1.69" fill="#000" />
<rect x="518.48" y="588.16" width="0.63" height="0.78" fill="#00e000" />
<rect x="520.37" y="588.16" width="0.63" height="0.78" fill="#00e000" />
<rect x="525.07" y="586.45" width="14.75" height="5.63" fill="#c0c0c0" stroke="#000" stroke-width="1" />
<rect x="525.20" y="588.81" width="14.49" height="1.00" fill="#000"/>
<rect x="526.04" y="587.12" width="8.40" height="1.20" fill="#fff"/>
<rect x="534.86" y="586.21" width="1.00" height="2.60" fill="#000"/>
<rect x="610.02" y="575.00" width="23.96" height="1.75" fill="#808080" stroke="#000" stroke-width="1" />
<rect x="627.76" y="575.60" width="1.00" height="1.00" fill="#00e000" />
<polygon points="616.24,577.25 627.76,577.25 631.60,580.50 612.40,580.50" fill="#000"  />
<rect x="615.60" y="578.21" width="12.80" height="1.00" fill="#808080"/>
<rect x="606.50" y="548.50" width="31.00" height="26.00" fill="#c0c0c0" stroke="#000" stroke-width="1" />
<rect x="609.36" y="551.38" width="24.64" height="19.03" fill="#000" />
<rect x="608.88" y="571.76" width="5.76" height="1.75" fill="#999" />
<rect x="603.50" y="580.50" width="40.00" height="12.00" fill="#c0c0c0" stroke="#000" stroke-width="1" />
<rect x="603.00" y="589.88" width="41.00" height="3.12" fill="#000" />
<rect x="607.51" y="590.79" width="31.98" height="1.43" fill="#808080" />
<rect x="603.82" y="591.18" width="2.46" height="1.00" fill="#808080"/>
<rect x="640.72" y="591.18" width="2.46" height="1.00" fill="#808080"/>
<rect x="604.23" y="581.56" width="3.69" height="3.25" fill="#808080" />
<rect x="617.14" y="580.00" width="1.00" height="9.88" fill="#000"/>
<rect x="617.55" y="586.50" width="8.00" height="1.00" fill="#000"/>
<rect x="625.55" y="580.00" width="1.00" height="9.88" fill="#000"/>
<rect x="618.17" y="583.25" width="2.05" height="1.69" fill="#000" />
<rect x="621.04" y="584.16" width="0.62" height="0.78" fill="#00e000" />
<rect x="622.88" y="584.16" width="0.62" height="0.78" fill="#00e000" />
<rect x="627.49" y="582.45" width="14.38" height="5.63" fill="#c0c0c0" stroke="#000" stroke-width="1" />
<rect x="627.60" y="584.81" width="14.14" height="1.00" fill="#000"/>
<rect x="628.42" y="583.12" width="8.20" height="1.20" fill="#fff"/>
<rect x="637.03" y="582.21" width="1.00" height="2.60" fill="#000"/>
<rect x="796.00" y="369.00" width="198.00" height="1.00" fill="#000"/>
<path d="M954.5 569.5 l8.5 -2.8 l4.5 2.8" fill="#fff" stroke="#000" stroke-width="1"/>
<polygon points="975.00,580.50 994.50,578.00 995.50,580.20 979.00,584.30 975.00,586.50" fill="#c0c0c0" stroke="#000" stroke-width="0.9" />
<path d="M917.5 569.5 h53.5 l4 4 v16.5 h-57.5 z" fill="#fff" stroke="#000" stroke-width="1"/>
<rect x="917.00" y="583.00" width="58.00" height="1.00" fill="#000"/>
<rect x="920.00" y="590.00" width="52.50" height="1.20" fill="#fff" stroke="#000" stroke-width="1" />
<rect x="921.00" y="572.00" width="10.00" height="1.80" fill="#000" />
<rect x="921.00" y="575.00" width="10.00" height="3.00" fill="#000" />
<text y="170.30" fill="#ff0000" font-weight="normal" stroke="#ff0000" stroke-width="0.25"><tspan x="42.00" font-family='"Liberation Sans","Noto Sans CJK SC",sans-serif' font-size="10.67" textLength="53.35" lengthAdjust="spacing">其它信息库</tspan></text>
<text y="262.30" fill="#ff0000" font-weight="normal" stroke="#ff0000" stroke-width="0.25"><tspan x="217.30" font-family='"Liberation Sans","Noto Sans CJK SC",sans-serif' font-size="10.67" textLength="42.68" lengthAdjust="spacing">电脑用户</tspan></text>
<text y="262.30" fill="#ff0000" font-weight="normal" stroke="#ff0000" stroke-width="0.25"><tspan x="331.30" font-family='"Liberation Sans","Noto Sans CJK SC",sans-serif' font-size="10.67" textLength="42.68" lengthAdjust="spacing">电脑用户</tspan></text>
<text y="255.60" fill="#ff0000" font-weight="normal" stroke="#ff0000" stroke-width="0.25"><tspan x="538.80" font-family='"Liberation Sans","Noto Sans CJK SC",sans-serif' font-size="10.67" textLength="42.68" lengthAdjust="spacing">电话用户</tspan></text>
<text y="255.60" fill="#ff0000" font-weight="normal" stroke="#ff0000" stroke-width="0.25"><tspan x="633.30" font-family='"Liberation Sans","Noto Sans CJK SC",sans-serif' font-size="10.67" textLength="42.68" lengthAdjust="spacing">电话用户</tspan></text>
<text y="606.50" fill="#0000ff" font-weight="normal" stroke="#0000ff" stroke-width="0.25"><tspan x="919.40" font-family='"Liberation Sans","Noto Sans CJK SC",sans-serif' font-size="10.67" textLength="53.35" lengthAdjust="spacing">激光打印机</tspan></text>
<g transform="translate(464.5 241) rotate(-47)">
<text y="4.00" fill="#ff0000" font-weight="normal" stroke="#ff0000" stroke-width="0.25"><tspan x="-23.00" font-family='"Liberation Mono",monospace' font-size="11.30" font-weight="bold" stroke="none" textLength="16.95" lengthAdjust="spacingAndGlyphs">PCM</tspan><tspan x="-6.05" font-family='"Liberation Sans","Noto Sans CJK SC",sans-serif' font-size="11.30" textLength="22.60" lengthAdjust="spacing">中继</tspan></text>
</g>
<text y="240.80" fill="#0000ff" font-weight="normal" stroke="#0000ff" stroke-width="0.3"><tspan x="164.50" font-family='"Liberation Mono",monospace' font-size="10.67" textLength="16.00" lengthAdjust="spacingAndGlyphs">ISP</tspan></text>
<text y="301.90" fill="#0000ff" font-weight="normal" stroke="#0000ff" stroke-width="0.3"><tspan x="58.50" font-family='"Liberation Mono",monospace' font-size="10.67" textLength="16.00" lengthAdjust="spacingAndGlyphs">DTU</tspan></text>
<text y="288.00" fill="#0000ff" font-weight="normal" stroke="#0000ff" stroke-width="0.3"><tspan x="153.30" font-family='"Liberation Mono",monospace' font-size="10.67" textLength="16.00" lengthAdjust="spacingAndGlyphs">DTU</tspan></text>
<text y="359.00" fill="#0000ff" font-weight="normal" stroke="#0000ff" stroke-width="0.3"><tspan x="58.50" font-family='"Liberation Mono",monospace' font-size="10.67" textLength="16.00" lengthAdjust="spacingAndGlyphs">DTU</tspan></text>
<text y="313.00" fill="#0000ff" font-weight="normal" stroke="#0000ff" stroke-width="0.3"><tspan x="77.50" font-family='"Liberation Mono",monospace' font-size="10.67" textLength="16.00" lengthAdjust="spacingAndGlyphs">DDN</tspan></text>
<text y="313.00" fill="#0000ff" font-weight="normal" stroke="#0000ff" stroke-width="0.3"><tspan x="172.60" font-family='"Liberation Mono",monospace' font-size="10.67" textLength="16.00" lengthAdjust="spacingAndGlyphs">DDN</tspan></text>
<text y="397.00" fill="#0000ff" font-weight="normal" stroke="#0000ff" stroke-width="0.3"><tspan x="145.80" font-family='"Liberation Mono",monospace' font-size="10.20" textLength="30.60" lengthAdjust="spacingAndGlyphs">Router</tspan></text>
<text y="444.20" fill="#0000ff" font-weight="normal" stroke="#0000ff" stroke-width="0.3"><tspan x="564.00" font-family='"Liberation Mono",monospace' font-size="10.00" textLength="25.00" lengthAdjust="spacingAndGlyphs">HUB-1</tspan></text>
<text y="395.00" fill="#0000ff" font-weight="normal" stroke="#0000ff" stroke-width="0.3"><tspan x="908.50" font-family='"Liberation Mono",monospace' font-size="10.40" textLength="20.80" lengthAdjust="spacingAndGlyphs">MW-4</tspan></text>
<rect x="390.00" y="376.00" width="31.00" height="18.00" fill="#fff" />
<text y="390.50" fill="#0000ff" font-weight="normal" stroke="#0000ff" stroke-width="0.25"><tspan x="391.60" font-family='"Liberation Mono",monospace' font-size="13.73" textLength="26.66" lengthAdjust="spacingAndGlyphs">VX30</tspan></text>
<text y="294.30" fill="#0000ff" font-weight="normal" stroke="#0000ff" stroke-width="0.25"><tspan x="734.70" font-family='"Liberation Mono",monospace' font-size="13.73" textLength="26.66" lengthAdjust="spacingAndGlyphs">MW-1</tspan></text>
<text y="294.30" fill="#0000ff" font-weight="normal" stroke="#0000ff" stroke-width="0.25"><tspan x="904.70" font-family='"Liberation Mono",monospace' font-size="13.73" textLength="26.66" lengthAdjust="spacingAndGlyphs">MW-2</tspan></text>
<text y="397.30" fill="#0000ff" font-weight="normal" stroke="#0000ff" stroke-width="0.25"><tspan x="736.70" font-family='"Liberation Mono",monospace' font-size="13.73" textLength="26.66" lengthAdjust="spacingAndGlyphs">MW-3</tspan></text>
<text y="552.30" fill="#0000ff" font-weight="normal" stroke="#0000ff" stroke-width="0.25"><tspan x="728.50" font-family='"Liberation Mono",monospace' font-size="13.73" textLength="26.66" lengthAdjust="spacingAndGlyphs">VW-1</tspan></text>
<text y="552.30" fill="#0000ff" font-weight="normal" stroke="#0000ff" stroke-width="0.25"><tspan x="809.50" font-family='"Liberation Mono",monospace' font-size="13.73" textLength="26.66" lengthAdjust="spacingAndGlyphs">VW-2</tspan></text>
<text y="552.30" fill="#0000ff" font-weight="normal" stroke="#0000ff" stroke-width="0.25"><tspan x="933.40" font-family='"Liberation Mono",monospace' font-size="13.73" textLength="26.66" lengthAdjust="spacingAndGlyphs">CW-1</tspan></text>
<text y="552.30" fill="#0000ff" font-weight="normal" stroke="#0000ff" stroke-width="0.25"><tspan x="249.70" font-family='"Liberation Mono",monospace' font-size="13.73" textLength="26.66" lengthAdjust="spacingAndGlyphs">DS-1</tspan></text>
<text y="552.30" fill="#0000ff" font-weight="normal" stroke="#0000ff" stroke-width="0.25"><tspan x="362.70" font-family='"Liberation Mono",monospace' font-size="13.73" textLength="26.66" lengthAdjust="spacingAndGlyphs">VS-1</tspan></text>
<text y="537.30" fill="#0000ff" font-weight="normal" stroke="#0000ff" stroke-width="0.25"><tspan x="507.40" font-family='"Liberation Mono",monospace' font-size="13.73" textLength="26.66" lengthAdjust="spacingAndGlyphs">IW-1</tspan></text>
<text y="537.30" fill="#0000ff" font-weight="normal" stroke="#0000ff" stroke-width="0.25"><tspan x="610.70" font-family='"Liberation Mono",monospace' font-size="13.73" textLength="26.66" lengthAdjust="spacingAndGlyphs">IW-2</tspan></text>
<text y="613.30" fill="#0000ff" font-weight="normal" stroke="#0000ff" stroke-width="0.25"><tspan x="507.40" font-family='"Liberation Mono",monospace' font-size="13.73" textLength="26.66" lengthAdjust="spacingAndGlyphs">IW-3</tspan></text>
<text y="609.30" fill="#0000ff" font-weight="normal" stroke="#0000ff" stroke-width="0.25"><tspan x="610.70" font-family='"Liberation Mono",monospace' font-size="13.73" textLength="26.66" lengthAdjust="spacingAndGlyphs">IW-4</tspan></text>
<text y="293.50" fill="#ff0000" font-weight="normal" stroke="#ff0000" stroke-width="0.15"><tspan x="319.50" font-family='"Liberation Serif","Noto Serif CJK SC",serif' font-size="16.00" textLength="64.00" lengthAdjust="spacing">语音节点</tspan><tspan x="383.50" font-family='"Liberation Mono",monospace' font-size="16.48" stroke="none" textLength="24.00" lengthAdjust="spacingAndGlyphs">VX1</tspan></text>
<text y="176.50" fill="#ff0000" font-weight="normal" stroke="#ff0000" stroke-width="0.15"><tspan x="754.50" font-family='"Liberation Serif","Noto Serif CJK SC",serif' font-size="16.00" textLength="80.00" lengthAdjust="spacing">人工座席群</tspan></text>
<text y="196.00" fill="#ff0000" font-weight="normal" stroke="#ff0000" stroke-width="0.15"><tspan x="765.50" font-family='"Liberation Mono",monospace' font-size="16.48" stroke="none" textLength="56.00" lengthAdjust="spacingAndGlyphs">MW1-MW4</tspan></text>
<text y="646.50" fill="#ff0000" font-weight="normal" stroke="#ff0000" stroke-width="0.15"><tspan x="223.00" font-family='"Liberation Serif","Noto Serif CJK SC",serif' font-size="16.00" textLength="96.00" lengthAdjust="spacing">数据库服务器</tspan><tspan x="319.00" font-family='"Liberation Mono",monospace' font-size="16.48" stroke="none" textLength="8.00" lengthAdjust="spacingAndGlyphs"> </tspan><tspan x="327.00" font-family='"Liberation Serif","Noto Serif CJK SC",serif' font-size="16.00" textLength="112.00" lengthAdjust="spacing">语音文件服务器</tspan></text>
<text y="648.50" fill="#ff0000" font-weight="normal" stroke="#ff0000" stroke-width="0.15"><tspan x="501.00" font-family='"Liberation Serif","Noto Serif CJK SC",serif' font-size="16.00" textLength="112.00" lengthAdjust="spacing">信息采集工作站</tspan><tspan x="613.00" font-family='"Liberation Mono",monospace' font-size="16.48" stroke="none" textLength="40.00" lengthAdjust="spacingAndGlyphs">IW1-4</tspan></text>
<text y="649.00" fill="#ff0000" font-weight="normal" stroke="#ff0000" stroke-width="0.15"><tspan x="708.50" font-family='"Liberation Serif","Noto Serif CJK SC",serif' font-size="16.00" textLength="112.00" lengthAdjust="spacing">录音编辑工作站</tspan><tspan x="820.50" font-family='"Liberation Mono",monospace' font-size="16.48" stroke="none" textLength="40.00" lengthAdjust="spacingAndGlyphs">VW1-2</tspan></text>
<text y="638.50" fill="#ff0000" font-weight="normal" stroke="#ff0000" stroke-width="0.15"><tspan x="906.50" font-family='"Liberation Serif","Noto Serif CJK SC",serif' font-size="16.00" textLength="96.00" lengthAdjust="spacing">统计计费管理</tspan></text>
<text y="658.50" fill="#ff0000" font-weight="normal" stroke="#ff0000" stroke-width="0.15"><tspan x="914.50" font-family='"Liberation Serif","Noto Serif CJK SC",serif' font-size="16.00" textLength="48.00" lengthAdjust="spacing">工作站</tspan><tspan x="962.50" font-family='"Liberation Mono",monospace' font-size="16.48" stroke="none" textLength="32.00" lengthAdjust="spacingAndGlyphs">CW-1</tspan></text>
<rect x="583.00" y="304.00" width="29.00" height="1.00" fill="#fff"/>
<line x1="583" y1="304.5" x2="612" y2="304.5" stroke="#000" stroke-width="1" stroke-dasharray="1.5 1.5"/>
<text y="301.50" fill="#ff0000" font-weight="normal" stroke="#ff0000" stroke-width="0.2"><tspan x="597.30" font-family='"Liberation Sans","Noto Sans CJK SC",sans-serif' font-size="12.00" textLength="36.00" lengthAdjust="spacing">电话线</tspan></text>
<text y="390.00" fill="#ff0000" font-weight="normal" stroke="#ff0000" stroke-width="0.2"><tspan x="515.00" font-family='"Liberation Mono",monospace' font-size="12.36" textLength="12.00" lengthAdjust="spacingAndGlyphs">VX</tspan><tspan x="527.00" font-family='"Liberation Sans","Noto Sans CJK SC",sans-serif' font-size="12.00" textLength="48.00" lengthAdjust="spacing">传真服务</tspan></text>
<text y="133.00" fill="#ff0000" font-weight="normal" stroke="#ff0000" stroke-width="0.15"><tspan x="282.50" font-family='"Liberation Mono",monospace' font-size="18.33" stroke="none" textLength="71.20" lengthAdjust="spacingAndGlyphs">Internet</tspan></text>
<text y="137.00" fill="#ff0000" font-weight="normal" stroke="#ff0000" stroke-width="0.15"><tspan x="540.00" font-family='"Liberation Mono",monospace' font-size="18.33" stroke="none" textLength="35.60" lengthAdjust="spacingAndGlyphs">PSTN</tspan></text>
<text y="579.00" fill="#ff0000" font-weight="normal" stroke="#ff0000" stroke-width="0.25"><tspan x="91.84" font-family='"Liberation Mono",monospace' font-size="13.33" textLength="33.33" lengthAdjust="spacingAndGlyphs">VX_We</tspan></text>
<text y="595.00" fill="#ff0000" font-weight="normal" stroke="#ff0000" stroke-width="0.25"><tspan x="105.17" font-family='"Liberation Mono",monospace' font-size="13.33" textLength="6.67" lengthAdjust="spacingAndGlyphs">b</tspan></text>
<text y="610.50" fill="#ff0000" font-weight="normal" stroke="#ff0000" stroke-width="0.25"><tspan x="95.64" font-family='"Liberation Sans","Noto Sans CJK SC",sans-serif' font-size="12.40" textLength="25.73" lengthAdjust="spacing">服务</tspan></text>
<text y="626.50" fill="#ff0000" font-weight="normal" stroke="#ff0000" stroke-width="0.25"><tspan x="102.30" font-family='"Liberation Sans","Noto Sans CJK SC",sans-serif' font-size="12.40" textLength="12.40" lengthAdjust="spacing">器</tspan></text>
<text y="579.00" fill="#ff0000" font-weight="normal" stroke="#ff0000" stroke-width="0.25"><tspan x="158.34" font-family='"Liberation Mono",monospace' font-size="13.33" textLength="13.33" lengthAdjust="spacingAndGlyphs">XN</tspan></text>
<text y="595.00" fill="#ff0000" font-weight="normal" stroke="#ff0000" stroke-width="0.25"><tspan x="145.47" font-family='"Liberation Sans","Noto Sans CJK SC",sans-serif' font-size="12.40" textLength="39.06" lengthAdjust="spacing">虚拟主</tspan></text>
<text y="610.50" fill="#ff0000" font-weight="normal" stroke="#ff0000" stroke-width="0.25"><tspan x="158.80" font-family='"Liberation Sans","Noto Sans CJK SC",sans-serif' font-size="12.40" textLength="12.40" lengthAdjust="spacing">机</tspan></text>
<text y="626.50" fill="#ff0000" font-weight="normal" stroke="#ff0000" stroke-width="0.25"><tspan x="145.47" font-family='"Liberation Sans","Noto Sans CJK SC",sans-serif' font-size="12.40" textLength="39.06" lengthAdjust="spacing">服务器</tspan></text>
<text y="713" fill="#000" font-size="23"><tspan x="321.5" font-family='"Liberation Serif","Noto Serif CJK SC",serif'>图</tspan><tspan x="345" font-family='"Liberation Sans",sans-serif' font-size="21.5">5 </tspan><tspan x="369.5" font-family='"Liberation Serif","Noto Serif CJK SC",serif' textLength="429.5" lengthAdjust="spacing">深圳市中小企业信息服务系统结构示意图</tspan></text>
</svg>
</body>
</html>
